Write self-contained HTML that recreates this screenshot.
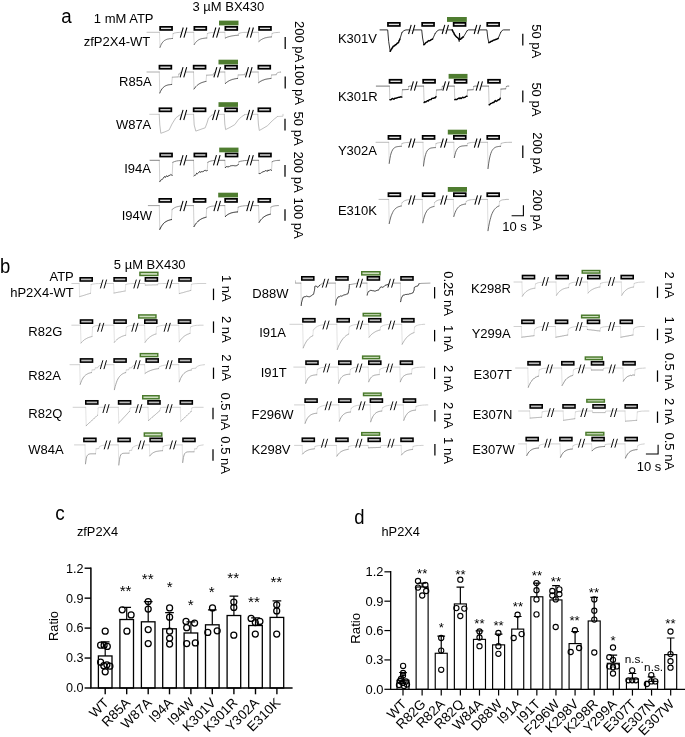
<!DOCTYPE html>
<html><head><meta charset="utf-8"><title>Figure</title>
<style>html,body{margin:0;padding:0;background:#fff}svg{display:block}text{font-family:"Liberation Sans",Arial,sans-serif;fill:#000}</style>
</head><body>
<svg width="685" height="737" viewBox="0 0 685 737">
<rect width="685" height="737" fill="#fff"/>
<text x="0" y="0" font-size="20.8" text-anchor="start" transform="translate(61.20 22.70) scale(0.9 1)" >a</text>
<text x="93.8" y="22.8" font-size="13.0" text-anchor="start" >1 mM ATP</text>
<text x="192.5" y="11.0" font-size="13.0" text-anchor="start" >3 µM BX430</text>
<path d="M159.5,32.3 L160.0,47.4M172.5,38.5 L173.1,33.6M193.7,32.3 L194.2,44.6M206.8,38.0 L207.4,33.6M224.8,32.3 L225.3,38.0M238.3,35.2 L238.9,33.4M258.4,32.3 L258.9,41.5M271.5,36.9 L272.1,33.5" fill="none" stroke="#d4d4d4" stroke-width="0.8" stroke-linejoin="round" stroke-linecap="round"/>
<path d="M147.0,32.3 L159.5,32.3M173.1,33.6 L174.3,33.1 L175.6,32.8 L176.8,32.6 L178.0,32.5 L179.3,32.4 L180.5,32.4 L180.5,32.3 L193.7,32.3M207.4,33.6 L208.6,33.1 L209.9,32.8 L211.1,32.6 L212.3,32.5 L213.6,32.4 L214.8,32.4 L214.8,32.3 L224.8,32.3M238.9,33.4 L240.1,33.0 L241.4,32.7 L242.6,32.5 L243.8,32.4 L245.1,32.4 L246.3,32.4 L246.3,32.3 L258.4,32.3M272.1,33.5 L273.3,33.0 L274.6,32.7 L275.8,32.6 L277.0,32.5 L278.3,32.4 L279.5,32.4 L279.5,32.3 L279.5,32.3" fill="none" stroke="#b0b0b0" stroke-width="0.8" stroke-linejoin="round" stroke-linecap="round"/>
<path d="M160.0,47.4 L160.7,45.6 L161.4,44.1 L162.1,43.0 L162.8,42.1 L163.5,41.3 L164.2,40.7 L164.9,40.2 L165.6,39.9 L166.2,39.6 L166.9,39.3 L167.6,39.1 L168.3,39.0 L169.0,38.8 L169.7,38.7 L170.4,38.7 L171.1,38.6 L171.8,38.5 L172.5,38.5M194.2,44.6 L194.9,43.4 L195.6,42.5 L196.3,41.7 L197.0,41.0 L197.7,40.5 L198.4,40.0 L199.1,39.6 L199.8,39.3 L200.5,39.0 L201.2,38.8 L201.9,38.6 L202.6,38.5 L203.3,38.4 L204.0,38.3 L204.7,38.2 L205.4,38.1 L206.1,38.0 L206.8,38.0M225.3,38.0 L226.0,37.7 L226.7,37.4 L227.4,37.1 L228.0,36.9 L228.7,36.7 L229.4,36.5 L230.1,36.3 L230.8,36.2 L231.5,36.0 L232.1,35.9 L232.8,35.8 L233.5,35.7 L234.2,35.6 L234.9,35.5 L235.6,35.4 L236.2,35.4 L236.9,35.3 L237.6,35.2 L238.3,35.2M258.9,41.5 L259.6,40.9 L260.3,40.3 L261.0,39.8 L261.7,39.4 L262.4,39.0 L263.1,38.7 L263.8,38.4 L264.5,38.1 L265.2,37.9 L265.9,37.7 L266.6,37.6 L267.3,37.4 L268.0,37.3 L268.7,37.2 L269.4,37.1 L270.1,37.0 L270.8,37.0 L271.5,36.9" fill="none" stroke="#555" stroke-width="0.8" stroke-linejoin="round" stroke-linecap="round"/>
<rect x="160.15" y="26.85" width="11.90" height="3.10" fill="#e2e2e2" stroke="#000" stroke-width="1.7"/>
<rect x="194.35" y="26.85" width="11.90" height="3.10" fill="#e2e2e2" stroke="#000" stroke-width="1.7"/>
<rect x="225.35" y="26.85" width="11.90" height="3.10" fill="#e2e2e2" stroke="#000" stroke-width="1.7"/>
<rect x="259.05" y="26.85" width="11.90" height="3.10" fill="#e2e2e2" stroke="#000" stroke-width="1.7"/>
<rect x="219.00" y="20.60" width="19.50" height="4.80" fill="#4f7d30"/>
<rect x="181.58" y="31.40" width="4.05" height="2.4" fill="#fff"/>
<line x1="183.25" y1="27.50" x2="180.30" y2="37.70" stroke="#000" stroke-width="1.05"/>
<line x1="186.90" y1="27.50" x2="183.95" y2="37.70" stroke="#000" stroke-width="1.05"/>
<rect x="214.18" y="31.40" width="4.05" height="2.4" fill="#fff"/>
<line x1="215.85" y1="27.50" x2="212.90" y2="37.70" stroke="#000" stroke-width="1.05"/>
<line x1="219.50" y1="27.50" x2="216.55" y2="37.70" stroke="#000" stroke-width="1.05"/>
<rect x="248.08" y="31.40" width="4.05" height="2.4" fill="#fff"/>
<line x1="249.75" y1="27.50" x2="246.80" y2="37.70" stroke="#000" stroke-width="1.05"/>
<line x1="253.40" y1="27.50" x2="250.45" y2="37.70" stroke="#000" stroke-width="1.05"/>
<text x="150.2" y="45.6" font-size="13.0" text-anchor="end" >zfP2X4-WT</text>
<line x1="285.2" y1="37.0" x2="285.2" y2="49.0" stroke="#000" stroke-width="1.25"/>
<text x="294.7" y="21.0" font-size="13.0" text-anchor="start" transform="rotate(90 294.7 21.0)" >200 pA</text>
<path d="M159.3,72.0 L159.8,93.0M171.7,84.4 L172.3,77.2M178.2,76.9 L178.8,74.6M193.5,72.0 L194.0,89.0M206.0,81.4 L206.6,75.2M213.2,74.9 L213.8,73.4M224.8,72.0 L225.3,83.5M237.6,78.4 L238.2,75.0M244.7,74.7 L245.3,73.2M258.2,72.0 L258.7,82.6M271.0,78.4 L271.6,75.0M276.2,74.7 L276.8,73.4" fill="none" stroke="#ccc" stroke-width="0.8" stroke-linejoin="round" stroke-linecap="round"/>
<path d="M147.0,72.0 L159.3,72.0M172.3,77.2 L178.2,76.9M178.8,74.6 L179.2,73.6 L179.7,73.0 L180.2,72.6 L180.6,72.4 L181.1,72.2 L181.5,72.1 L181.5,72.0 L193.5,72.0M206.6,75.2 L213.2,74.9M213.8,73.4 L214.2,72.8 L214.5,72.5 L214.9,72.3 L215.3,72.2 L215.6,72.1 L216.0,72.1 L216.0,72.0 L224.8,72.0M238.2,75.0 L244.7,74.7M245.3,73.2 L245.8,72.7 L246.2,72.4 L246.7,72.3 L247.1,72.2 L247.6,72.1 L248.0,72.1 L248.0,72.0 L258.2,72.0M271.6,75.0 L276.2,74.7M276.8,73.4 L277.5,72.8 L278.2,72.5 L278.9,72.3 L279.6,72.2 L280.3,72.1 L281.0,72.1 L281.0,72.0 L281.0,72.0" fill="none" stroke="#999" stroke-width="0.8" stroke-linejoin="round" stroke-linecap="round"/>
<path d="M159.8,93.0 L160.5,91.4 L161.2,90.1 L161.9,89.0 L162.6,88.2 L163.3,87.4 L164.0,86.8 L164.7,86.3 L165.4,85.9 L166.1,85.6 L166.8,85.3 L167.5,85.1 L168.2,84.9 L168.9,84.8 L169.6,84.7 L170.3,84.6 L171.0,84.5 L171.7,84.4M194.0,89.0 L194.7,88.1 L195.3,87.2 L196.0,86.5 L196.7,85.8 L197.3,85.3 L198.0,84.7 L198.7,84.2 L199.3,83.8 L200.0,83.4 L200.7,83.1 L201.3,82.8 L202.0,82.5 L202.7,82.3 L203.3,82.1 L204.0,81.9 L204.7,81.7 L205.3,81.5 L206.0,81.4M225.3,83.5 L226.0,82.9 L226.7,82.3 L227.4,81.8 L228.0,81.4 L228.7,81.0 L229.4,80.6 L230.1,80.3 L230.8,80.0 L231.4,79.8 L232.1,79.5 L232.8,79.3 L233.5,79.2 L234.2,79.0 L234.9,78.8 L235.6,78.7 L236.2,78.6 L236.9,78.5 L237.6,78.4M258.7,82.6 L259.4,82.1 L260.1,81.6 L260.8,81.2 L261.4,80.9 L262.1,80.5 L262.8,80.2 L263.5,80.0 L264.2,79.7 L264.9,79.5 L265.5,79.3 L266.2,79.2 L266.9,79.0 L267.6,78.9 L268.3,78.8 L268.9,78.7 L269.6,78.6 L270.3,78.5 L271.0,78.4" fill="none" stroke="#333" stroke-width="0.85" stroke-linejoin="round" stroke-linecap="round"/>
<rect x="159.45" y="65.65" width="11.90" height="3.10" fill="#e2e2e2" stroke="#000" stroke-width="1.7"/>
<rect x="193.65" y="65.65" width="11.90" height="3.10" fill="#e2e2e2" stroke="#000" stroke-width="1.7"/>
<rect x="225.15" y="65.65" width="11.90" height="3.10" fill="#e2e2e2" stroke="#000" stroke-width="1.7"/>
<rect x="258.35" y="65.65" width="11.90" height="3.10" fill="#e2e2e2" stroke="#000" stroke-width="1.7"/>
<rect x="218.50" y="59.70" width="19.50" height="4.70" fill="#4f7d30"/>
<rect x="181.38" y="71.10" width="4.05" height="2.4" fill="#fff"/>
<line x1="183.05" y1="67.20" x2="180.10" y2="77.40" stroke="#000" stroke-width="1.05"/>
<line x1="186.70" y1="67.20" x2="183.75" y2="77.40" stroke="#000" stroke-width="1.05"/>
<rect x="215.18" y="71.10" width="4.05" height="2.4" fill="#fff"/>
<line x1="216.85" y1="67.20" x2="213.90" y2="77.40" stroke="#000" stroke-width="1.05"/>
<line x1="220.50" y1="67.20" x2="217.55" y2="77.40" stroke="#000" stroke-width="1.05"/>
<rect x="246.78" y="71.10" width="4.05" height="2.4" fill="#fff"/>
<line x1="248.45" y1="67.20" x2="245.50" y2="77.40" stroke="#000" stroke-width="1.05"/>
<line x1="252.10" y1="67.20" x2="249.15" y2="77.40" stroke="#000" stroke-width="1.05"/>
<text x="151.6" y="86.4" font-size="13.0" text-anchor="end" >R85A</text>
<line x1="285.2" y1="76.4" x2="285.2" y2="88.6" stroke="#000" stroke-width="1.25"/>
<text x="294.7" y="63.8" font-size="13.0" text-anchor="start" transform="rotate(90 294.7 63.8)" >100 pA</text>
<path d="M149.7,114.3 L159.2,114.3M179.0,115.5 L181.0,114.5 L193.6,114.3M211.8,115.1 L213.5,114.5 L224.3,114.3M244.6,114.7 L246.0,114.4 L257.8,114.3M277.5,116.5 L283.0,116.2 L283.0,114.3" fill="none" stroke="#c0c0c0" stroke-width="0.8" stroke-linejoin="round" stroke-linecap="round"/>
<path d="M159.2,114.3 L159.8,125.0 L160.8,133.3 L165.0,131.8 L169.1,130.0 L172.0,124.0 L175.7,118.0 L179.0,115.5M193.6,114.3 L194.2,125.0 L195.8,131.1 L200.0,129.6 L205.2,127.8 L207.0,123.0 L208.5,118.0 L211.8,115.1M224.3,114.3 L224.8,124.0 L225.6,129.6 L230.0,127.4 L234.8,124.6 L238.0,120.2 L241.3,116.9 L244.6,114.7M257.8,114.3 L258.4,124.0 L259.3,130.5 L263.0,128.4 L267.6,125.7 L271.0,122.0 L274.2,119.1 L277.5,116.5" fill="none" stroke="#b4b4b4" stroke-width="0.85" stroke-linejoin="round" stroke-linecap="round"/>
<rect x="159.45" y="108.25" width="11.90" height="3.10" fill="#e2e2e2" stroke="#000" stroke-width="1.7"/>
<rect x="193.65" y="108.25" width="11.90" height="3.10" fill="#e2e2e2" stroke="#000" stroke-width="1.7"/>
<rect x="225.15" y="108.25" width="11.90" height="3.10" fill="#e2e2e2" stroke="#000" stroke-width="1.7"/>
<rect x="258.35" y="108.25" width="11.90" height="3.10" fill="#e2e2e2" stroke="#000" stroke-width="1.7"/>
<rect x="218.50" y="102.20" width="19.50" height="4.70" fill="#4f7d30"/>
<rect x="181.38" y="113.70" width="4.05" height="2.4" fill="#fff"/>
<line x1="183.05" y1="109.80" x2="180.10" y2="120.00" stroke="#000" stroke-width="1.05"/>
<line x1="186.70" y1="109.80" x2="183.75" y2="120.00" stroke="#000" stroke-width="1.05"/>
<rect x="213.78" y="113.70" width="4.05" height="2.4" fill="#fff"/>
<line x1="215.45" y1="109.80" x2="212.50" y2="120.00" stroke="#000" stroke-width="1.05"/>
<line x1="219.10" y1="109.80" x2="216.15" y2="120.00" stroke="#000" stroke-width="1.05"/>
<rect x="247.98" y="113.70" width="4.05" height="2.4" fill="#fff"/>
<line x1="249.65" y1="109.80" x2="246.70" y2="120.00" stroke="#000" stroke-width="1.05"/>
<line x1="253.30" y1="109.80" x2="250.35" y2="120.00" stroke="#000" stroke-width="1.05"/>
<text x="151.3" y="129.0" font-size="13.0" text-anchor="end" >W87A</text>
<line x1="285.0" y1="118.7" x2="285.0" y2="130.6" stroke="#000" stroke-width="1.25"/>
<text x="293.9" y="111.6" font-size="13.0" text-anchor="start" transform="rotate(90 293.9 111.6)" >50 pA</text>
<path d="M159.3,160.3 L159.8,181.7M172.2,175.3 L172.8,162.3M193.5,160.3 L194.0,175.9M207.2,170.6 L207.8,162.3M224.8,160.3 L225.3,167.7M238.3,164.4 L238.9,161.8M258.6,160.3 L259.1,173.5M271.5,170.4 L272.1,161.8" fill="none" stroke="#c4c4c4" stroke-width="0.8" stroke-linejoin="round" stroke-linecap="round"/>
<path d="M150.0,160.3 L159.3,160.3M172.8,162.3 L174.7,161.5 L176.5,161.0 L178.4,160.7 L180.3,160.6 L182.1,160.5 L184.0,160.4 L184.0,160.3 L193.5,160.3M207.8,162.3 L209.3,161.5 L210.9,161.0 L212.4,160.7 L213.9,160.6 L215.5,160.5 L217.0,160.4 L217.0,160.3 L224.8,160.3M238.9,161.8 L240.8,161.2 L242.6,160.9 L244.4,160.6 L246.3,160.5 L248.2,160.4 L250.0,160.4 L250.0,160.3 L258.6,160.3M272.1,161.8 L273.2,161.2 L274.4,160.9 L275.6,160.6 L276.7,160.5 L277.9,160.4 L279.0,160.4 L279.0,160.3 L279.7,160.3" fill="none" stroke="#666" stroke-width="0.8" stroke-linejoin="round" stroke-linecap="round"/>
<path d="M159.8,181.7 L160.5,180.4 L161.2,180.2 L161.9,179.2 L162.6,179.0 L163.2,178.5 L163.9,177.1 L164.6,176.5 L165.3,177.5 L166.0,176.2 L166.7,175.8 L167.4,176.8 L168.1,175.7 L168.8,176.1 L169.4,175.3 L170.1,175.4 L170.8,174.4 L171.5,175.0 L172.2,175.3M194.0,175.9 L194.7,175.3 L195.4,175.1 L196.1,174.5 L196.8,173.0 L197.5,173.7 L198.2,173.1 L198.9,172.2 L199.6,171.5 L200.3,172.5 L200.9,171.6 L201.6,171.7 L202.3,171.8 L203.0,171.3 L203.7,171.4 L204.4,170.4 L205.1,170.9 L205.8,170.2 L206.5,170.8 L207.2,170.6M225.3,167.7 L226.0,166.8 L226.7,166.6 L227.4,166.5 L228.0,167.3 L228.7,166.4 L229.4,166.5 L230.1,165.8 L230.8,166.0 L231.5,165.7 L232.1,165.5 L232.8,165.7 L233.5,165.6 L234.2,165.9 L234.9,165.5 L235.6,165.8 L236.2,165.6 L236.9,165.7 L237.6,165.2 L238.3,164.4M259.1,173.5 L259.8,173.6 L260.5,173.4 L261.2,173.0 L261.9,172.3 L262.5,172.2 L263.2,171.3 L263.9,171.9 L264.6,171.3 L265.3,170.8 L266.0,170.3 L266.7,171.2 L267.4,171.3 L268.1,169.9 L268.7,170.8 L269.4,170.1 L270.1,169.7 L270.8,169.8 L271.5,170.4" fill="none" stroke="#2a2a2a" stroke-width="0.9" stroke-linejoin="round" stroke-linecap="round"/>
<rect x="160.15" y="153.45" width="11.90" height="3.10" fill="#e2e2e2" stroke="#000" stroke-width="1.7"/>
<rect x="194.35" y="153.45" width="11.90" height="3.10" fill="#e2e2e2" stroke="#000" stroke-width="1.7"/>
<rect x="225.65" y="153.45" width="11.90" height="3.10" fill="#e2e2e2" stroke="#000" stroke-width="1.7"/>
<rect x="259.05" y="153.45" width="11.90" height="3.10" fill="#e2e2e2" stroke="#000" stroke-width="1.7"/>
<rect x="219.20" y="147.60" width="19.30" height="4.70" fill="#4f7d30"/>
<rect x="181.38" y="159.00" width="4.05" height="2.4" fill="#fff"/>
<line x1="183.05" y1="155.10" x2="180.10" y2="165.30" stroke="#000" stroke-width="1.05"/>
<line x1="186.70" y1="155.10" x2="183.75" y2="165.30" stroke="#000" stroke-width="1.05"/>
<rect x="214.78" y="159.00" width="4.05" height="2.4" fill="#fff"/>
<line x1="216.45" y1="155.10" x2="213.50" y2="165.30" stroke="#000" stroke-width="1.05"/>
<line x1="220.10" y1="155.10" x2="217.15" y2="165.30" stroke="#000" stroke-width="1.05"/>
<rect x="247.98" y="159.00" width="4.05" height="2.4" fill="#fff"/>
<line x1="249.65" y1="155.10" x2="246.70" y2="165.30" stroke="#000" stroke-width="1.05"/>
<line x1="253.30" y1="155.10" x2="250.35" y2="165.30" stroke="#000" stroke-width="1.05"/>
<text x="151.0" y="172.5" font-size="13.0" text-anchor="end" >I94A</text>
<line x1="285.0" y1="164.9" x2="285.0" y2="176.7" stroke="#000" stroke-width="1.25"/>
<text x="293.9" y="151.4" font-size="13.0" text-anchor="start" transform="rotate(90 293.9 151.4)" >200 pA</text>
<path d="M159.3,205.6 L159.8,229.4M171.5,219.6 L172.1,209.5M193.5,205.6 L194.0,226.6M206.1,217.2 L206.7,208.4M224.8,205.6 L225.3,216.5M237.6,211.9 L238.2,207.2M258.6,205.6 L259.1,222.4M270.3,214.2 L270.9,207.2" fill="none" stroke="#c4c4c4" stroke-width="0.8" stroke-linejoin="round" stroke-linecap="round"/>
<path d="M148.3,205.6 L159.3,205.6M172.1,209.5 L174.1,208.0 L176.1,207.0 L178.1,206.5 L180.0,206.1 L182.0,205.9 L184.0,205.8 L184.0,205.6 L193.5,205.6M206.7,208.4 L208.4,207.3 L210.1,206.6 L211.8,206.2 L213.6,206.0 L215.3,205.8 L217.0,205.7 L217.0,205.6 L224.8,205.6M238.2,207.2 L239.7,206.6 L241.1,206.2 L242.6,206.0 L244.1,205.8 L245.5,205.7 L247.0,205.7 L247.0,205.6 L258.6,205.6M270.9,207.2 L271.9,206.6 L272.9,206.2 L274.0,206.0 L275.0,205.8 L276.0,205.7 L277.0,205.7 L277.0,205.6 L278.5,205.6" fill="none" stroke="#888" stroke-width="0.8" stroke-linejoin="round" stroke-linecap="round"/>
<path d="M159.8,229.4 L160.5,227.9 L161.2,226.7 L161.9,225.6 L162.6,224.7 L163.2,223.8 L163.9,223.1 L164.6,222.5 L165.3,222.0 L166.0,221.6 L166.7,221.2 L167.4,220.8 L168.1,220.6 L168.7,220.3 L169.4,220.1 L170.1,219.9 L170.8,219.7 L171.5,219.6M194.0,226.6 L194.7,225.5 L195.3,224.4 L196.0,223.5 L196.7,222.7 L197.4,222.0 L198.0,221.3 L198.7,220.7 L199.4,220.2 L200.1,219.7 L200.7,219.3 L201.4,218.9 L202.1,218.6 L202.7,218.3 L203.4,218.0 L204.1,217.8 L204.8,217.6 L205.4,217.4 L206.1,217.2M225.3,216.5 L226.0,215.9 L226.7,215.3 L227.4,214.8 L228.0,214.4 L228.7,214.0 L229.4,213.7 L230.1,213.4 L230.8,213.1 L231.4,212.9 L232.1,212.7 L232.8,212.6 L233.5,212.4 L234.2,212.3 L234.9,212.2 L235.6,212.1 L236.2,212.0 L236.9,212.0 L237.6,211.9M259.1,222.4 L259.8,221.3 L260.5,220.3 L261.2,219.4 L261.9,218.7 L262.6,218.0 L263.3,217.4 L264.0,216.9 L264.7,216.4 L265.4,216.0 L266.1,215.6 L266.8,215.3 L267.5,215.0 L268.2,214.8 L268.9,214.6 L269.6,214.4 L270.3,214.2" fill="none" stroke="#222" stroke-width="1.0" stroke-linejoin="round" stroke-linecap="round"/>
<rect x="159.25" y="198.85" width="11.90" height="3.10" fill="#e2e2e2" stroke="#000" stroke-width="1.7"/>
<rect x="193.65" y="198.85" width="11.90" height="3.10" fill="#e2e2e2" stroke="#000" stroke-width="1.7"/>
<rect x="225.15" y="198.85" width="11.90" height="3.10" fill="#e2e2e2" stroke="#000" stroke-width="1.7"/>
<rect x="258.35" y="198.85" width="11.90" height="3.10" fill="#e2e2e2" stroke="#000" stroke-width="1.7"/>
<rect x="218.20" y="192.70" width="19.80" height="4.70" fill="#4f7d30"/>
<rect x="181.38" y="204.80" width="4.05" height="2.4" fill="#fff"/>
<line x1="183.05" y1="200.90" x2="180.10" y2="211.10" stroke="#000" stroke-width="1.05"/>
<line x1="186.70" y1="200.90" x2="183.75" y2="211.10" stroke="#000" stroke-width="1.05"/>
<rect x="215.18" y="204.80" width="4.05" height="2.4" fill="#fff"/>
<line x1="216.85" y1="200.90" x2="213.90" y2="211.10" stroke="#000" stroke-width="1.05"/>
<line x1="220.50" y1="200.90" x2="217.55" y2="211.10" stroke="#000" stroke-width="1.05"/>
<rect x="247.98" y="204.80" width="4.05" height="2.4" fill="#fff"/>
<line x1="249.65" y1="200.90" x2="246.70" y2="211.10" stroke="#000" stroke-width="1.05"/>
<line x1="253.30" y1="200.90" x2="250.35" y2="211.10" stroke="#000" stroke-width="1.05"/>
<text x="152.0" y="220.0" font-size="13.0" text-anchor="end" >I94W</text>
<line x1="285.0" y1="209.3" x2="285.0" y2="220.8" stroke="#000" stroke-width="1.25"/>
<text x="293.9" y="197.5" font-size="13.0" text-anchor="start" transform="rotate(90 293.9 197.5)" >100 pA</text>
<path d="M399.9,39.1 L402.0,32.4M432.6,39.1 L435.2,33.5M463.4,37.0 L467.0,30.9M498.1,38.6 L500.7,32.4" fill="none" stroke="#000" stroke-width="0.8" stroke-linejoin="round" stroke-linecap="round"/>
<path d="M380.0,29.9 L387.7,29.9 L388.7,41.6 L390.2,51.3M402.0,32.4 L404.0,30.6 L406.0,29.9 L421.7,29.9 L422.6,38.0 L423.9,44.7M435.2,33.5 L437.2,30.9 L439.0,29.9 L452.2,29.9M458.8,39.1 L459.2,41.6 L459.5,33.0 L459.9,39.3M467.0,30.9 L468.5,29.9 L486.9,29.9 L487.8,38.0 L488.9,42.7M500.7,32.4 L502.2,30.4 L503.5,29.9 L509.6,29.9" fill="none" stroke="#000" stroke-width="0.8" stroke-linejoin="round" stroke-linecap="round"/>
<path d="M390.2,51.3 L390.6,50.8 L391.1,49.5 L391.5,49.2 L392.0,48.1 L392.4,47.8 L392.9,46.8 L393.3,46.2 L394.0,46.0 L394.8,45.5 L395.5,44.7 L396.2,44.5 L396.9,43.6 L397.7,42.9 L398.4,42.7 L398.7,42.0 L399.0,40.9 L399.3,40.3 L399.6,39.8 L399.9,39.1M423.9,44.7 L424.7,44.1 L425.5,43.0 L426.4,42.2 L427.2,42.1 L428.0,41.1 L428.8,40.6 L429.5,40.8 L430.3,40.4 L431.1,39.7 L431.8,39.4 L432.6,39.1M452.2,29.9 L452.6,30.6 L452.9,31.4 L453.3,32.1 L453.7,32.7 L454.1,33.5 L454.4,34.4 L454.8,34.8 L455.2,35.5 L455.9,36.2 L456.6,37.1 L457.4,37.5 L458.1,38.2 L458.8,39.1M459.9,39.3 L460.6,39.2 L461.3,38.4 L462.0,38.0 L462.7,37.1 L463.4,37.0M488.9,42.7 L489.6,42.3 L490.4,42.0 L491.1,41.2 L491.8,41.3 L492.5,40.9 L493.3,40.2 L494.0,40.1 L494.8,39.9 L495.6,39.5 L496.5,39.3 L497.3,38.8 L498.1,38.6" fill="none" stroke="#000" stroke-width="1.5" stroke-linejoin="round" stroke-linecap="round"/>
<rect x="387.95" y="22.85" width="11.90" height="3.10" fill="#e2e2e2" stroke="#000" stroke-width="1.7"/>
<rect x="422.15" y="22.85" width="11.90" height="3.10" fill="#e2e2e2" stroke="#000" stroke-width="1.7"/>
<rect x="453.65" y="22.85" width="11.90" height="3.10" fill="#e2e2e2" stroke="#000" stroke-width="1.7"/>
<rect x="487.25" y="22.85" width="11.90" height="3.10" fill="#e2e2e2" stroke="#000" stroke-width="1.7"/>
<rect x="447.00" y="17.00" width="19.80" height="4.90" fill="#4f7d30"/>
<rect x="409.68" y="28.20" width="4.05" height="2.4" fill="#fff"/>
<line x1="411.21" y1="24.80" x2="408.54" y2="34.00" stroke="#000" stroke-width="1.05"/>
<line x1="414.86" y1="24.80" x2="412.19" y2="34.00" stroke="#000" stroke-width="1.05"/>
<rect x="443.28" y="28.20" width="4.05" height="2.4" fill="#fff"/>
<line x1="444.81" y1="24.80" x2="442.14" y2="34.00" stroke="#000" stroke-width="1.05"/>
<line x1="448.46" y1="24.80" x2="445.79" y2="34.00" stroke="#000" stroke-width="1.05"/>
<rect x="475.28" y="28.20" width="4.05" height="2.4" fill="#fff"/>
<line x1="476.81" y1="24.80" x2="474.14" y2="34.00" stroke="#000" stroke-width="1.05"/>
<line x1="480.46" y1="24.80" x2="477.79" y2="34.00" stroke="#000" stroke-width="1.05"/>
<text x="337.9" y="43.3" font-size="13.0" text-anchor="start" >K301V</text>
<line x1="522.8" y1="33.8" x2="522.8" y2="45.6" stroke="#000" stroke-width="1.25"/>
<text x="532.2" y="24.3" font-size="13.0" text-anchor="start" transform="rotate(90 532.2 24.3)" >50 pA</text>
<path d="M389.4,86.1 L389.9,99.7M401.8,97.1 L402.4,89.8M408.2,89.5 L408.8,86.4M423.6,86.1 L424.1,102.6M436.0,96.6 L436.6,90.0M441.7,89.7 L442.3,86.4M454.3,86.1 L454.8,99.7M467.0,96.3 L467.6,90.0M473.2,89.7 L473.8,86.4M488.6,86.1 L489.1,104.7M500.3,98.2 L500.9,89.1M505.7,88.8 L506.3,86.6" fill="none" stroke="#bbb" stroke-width="0.8" stroke-linejoin="round" stroke-linecap="round"/>
<path d="M376.3,86.1 L389.4,86.1M402.4,89.8 L408.2,89.5M408.8,86.4 L409.2,86.3 L409.5,86.2 L409.9,86.2 L410.3,86.1 L410.6,86.1 L411.0,86.1 L411.0,86.1 L423.6,86.1M436.6,90.0 L441.7,89.7M442.3,86.4 L442.6,86.3 L442.9,86.2 L443.1,86.2 L443.4,86.1 L443.7,86.1 L444.0,86.1 L444.0,86.1 L454.3,86.1M467.6,90.0 L473.2,89.7M473.8,86.4 L474.2,86.3 L474.5,86.2 L474.9,86.2 L475.3,86.1 L475.6,86.1 L476.0,86.1 L476.0,86.1 L488.6,86.1M500.9,89.1 L505.7,88.8M506.3,86.6 L506.6,86.4 L506.9,86.3 L507.1,86.2 L507.4,86.2 L507.7,86.1 L508.0,86.1 L508.0,86.1 L508.8,86.1" fill="none" stroke="#555" stroke-width="0.8" stroke-linejoin="round" stroke-linecap="round"/>
<path d="M389.9,99.7 L390.6,99.8 L391.3,99.6 L392.0,98.6 L392.7,98.5 L393.4,99.1 L394.1,99.2 L394.8,98.2 L395.5,98.3 L396.2,98.3 L396.9,97.8 L397.6,97.7 L398.3,97.4 L399.0,97.3 L399.7,97.4 L400.4,96.9 L401.1,96.8 L401.8,97.1M424.1,102.6 L424.8,101.7 L425.5,102.0 L426.2,101.9 L426.9,101.1 L427.6,100.6 L428.3,101.0 L429.0,100.0 L429.7,99.6 L430.4,99.6 L431.1,99.5 L431.8,98.5 L432.5,98.4 L433.2,98.1 L433.9,98.4 L434.6,97.6 L435.3,97.8 L436.0,96.6M454.8,99.7 L455.5,99.3 L456.2,99.5 L456.8,99.6 L457.5,98.9 L458.2,98.5 L458.9,98.2 L459.5,98.5 L460.2,97.9 L460.9,98.5 L461.6,98.3 L462.3,97.4 L462.9,97.3 L463.6,97.8 L464.3,97.4 L465.0,97.4 L465.6,96.7 L466.3,96.2 L467.0,96.3M489.1,104.7 L489.8,104.7 L490.5,103.7 L491.2,103.4 L491.9,103.1 L492.6,102.7 L493.3,102.3 L494.0,102.5 L494.7,101.2 L495.4,100.6 L496.1,101.4 L496.8,100.9 L497.5,100.6 L498.2,99.6 L498.9,99.8 L499.6,99.4 L500.3,98.2" fill="none" stroke="#000" stroke-width="1.4" stroke-linejoin="round" stroke-linecap="round"/>
<rect x="389.55" y="79.75" width="11.90" height="3.10" fill="#e2e2e2" stroke="#000" stroke-width="1.7"/>
<rect x="423.15" y="79.75" width="11.90" height="3.10" fill="#e2e2e2" stroke="#000" stroke-width="1.7"/>
<rect x="454.65" y="79.75" width="11.90" height="3.10" fill="#e2e2e2" stroke="#000" stroke-width="1.7"/>
<rect x="488.05" y="79.75" width="11.90" height="3.10" fill="#e2e2e2" stroke="#000" stroke-width="1.7"/>
<rect x="448.60" y="73.90" width="18.90" height="4.80" fill="#4f7d30"/>
<rect x="411.88" y="84.80" width="4.05" height="2.4" fill="#fff"/>
<line x1="413.41" y1="81.40" x2="410.74" y2="90.60" stroke="#000" stroke-width="1.05"/>
<line x1="417.06" y1="81.40" x2="414.39" y2="90.60" stroke="#000" stroke-width="1.05"/>
<rect x="443.98" y="84.80" width="4.05" height="2.4" fill="#fff"/>
<line x1="445.51" y1="81.40" x2="442.84" y2="90.60" stroke="#000" stroke-width="1.05"/>
<line x1="449.16" y1="81.40" x2="446.49" y2="90.60" stroke="#000" stroke-width="1.05"/>
<rect x="477.28" y="84.80" width="4.05" height="2.4" fill="#fff"/>
<line x1="478.81" y1="81.40" x2="476.14" y2="90.60" stroke="#000" stroke-width="1.05"/>
<line x1="482.46" y1="81.40" x2="479.79" y2="90.60" stroke="#000" stroke-width="1.05"/>
<text x="337.9" y="100.5" font-size="13.0" text-anchor="start" >K301R</text>
<line x1="522.8" y1="90.4" x2="522.8" y2="102.2" stroke="#000" stroke-width="1.25"/>
<text x="532.2" y="82.4" font-size="13.0" text-anchor="start" transform="rotate(90 532.2 82.4)" >50 pA</text>
<path d="M388.7,142.3 L389.2,163.4M401.3,146.3 L401.9,143.6M423.0,142.3 L423.5,166.0M435.4,147.6 L436.0,143.6M453.8,142.3 L454.3,157.6M467.0,145.7 L467.6,143.4M487.5,142.3 L488.0,168.6M500.6,146.3 L501.2,143.4" fill="none" stroke="#d4d4d4" stroke-width="0.8" stroke-linejoin="round" stroke-linecap="round"/>
<path d="M376.0,142.3 L388.7,142.3M401.9,143.6 L403.1,143.1 L404.4,142.8 L405.6,142.6 L406.8,142.5 L408.1,142.4 L409.3,142.4 L409.3,142.3 L423.0,142.3M436.0,143.6 L437.2,143.1 L438.5,142.8 L439.7,142.6 L440.9,142.5 L442.2,142.4 L443.4,142.4 L443.4,142.3 L453.8,142.3M467.6,143.4 L468.8,143.0 L470.1,142.7 L471.3,142.5 L472.5,142.4 L473.8,142.4 L475.0,142.4 L475.0,142.3 L487.5,142.3M501.2,143.4 L502.4,143.0 L503.7,142.7 L504.9,142.5 L506.1,142.4 L507.4,142.4 L508.6,142.4 L508.6,142.3 L511.6,142.3" fill="none" stroke="#aaa" stroke-width="0.8" stroke-linejoin="round" stroke-linecap="round"/>
<path d="M389.2,163.4 L389.9,158.8 L390.5,155.5 L391.2,153.0 L391.9,151.2 L392.6,149.9 L393.2,148.9 L393.9,148.2 L394.6,147.7 L395.2,147.3 L395.9,147.0 L396.6,146.8 L397.3,146.7 L397.9,146.5 L398.6,146.5 L399.3,146.4 L400.0,146.4 L400.6,146.3 L401.3,146.3M423.5,166.0 L424.2,160.9 L424.9,157.1 L425.6,154.5 L426.3,152.5 L427.0,151.1 L427.7,150.1 L428.4,149.4 L429.1,148.9 L429.8,148.5 L430.5,148.2 L431.2,148.0 L431.9,147.9 L432.6,147.8 L433.3,147.7 L434.0,147.7 L434.7,147.6 L435.4,147.6M454.3,157.6 L455.0,154.6 L455.6,152.3 L456.3,150.6 L457.0,149.4 L457.6,148.4 L458.3,147.7 L459.0,147.2 L459.6,146.8 L460.3,146.5 L461.0,146.3 L461.7,146.1 L462.3,146.0 L463.0,145.9 L463.7,145.9 L464.3,145.8 L465.0,145.8 L465.7,145.7 L466.3,145.7 L467.0,145.7M488.0,168.6 L488.7,163.2 L489.4,159.0 L490.1,155.9 L490.8,153.5 L491.5,151.7 L492.2,150.4 L492.9,149.4 L493.6,148.6 L494.3,148.0 L495.0,147.5 L495.7,147.2 L496.4,146.9 L497.1,146.8 L497.8,146.6 L498.5,146.5 L499.2,146.4 L499.9,146.3 L500.6,146.3" fill="none" stroke="#444" stroke-width="0.8" stroke-linejoin="round" stroke-linecap="round"/>
<rect x="388.45" y="135.85" width="11.90" height="3.10" fill="#e2e2e2" stroke="#000" stroke-width="1.7"/>
<rect x="422.65" y="135.85" width="11.90" height="3.10" fill="#e2e2e2" stroke="#000" stroke-width="1.7"/>
<rect x="453.85" y="135.85" width="11.90" height="3.10" fill="#e2e2e2" stroke="#000" stroke-width="1.7"/>
<rect x="487.25" y="135.85" width="11.90" height="3.10" fill="#e2e2e2" stroke="#000" stroke-width="1.7"/>
<rect x="447.80" y="129.70" width="19.20" height="4.80" fill="#4f7d30"/>
<rect x="409.78" y="141.90" width="4.05" height="2.4" fill="#fff"/>
<line x1="411.31" y1="138.50" x2="408.64" y2="147.70" stroke="#000" stroke-width="1.05"/>
<line x1="414.96" y1="138.50" x2="412.29" y2="147.70" stroke="#000" stroke-width="1.05"/>
<rect x="441.78" y="141.90" width="4.05" height="2.4" fill="#fff"/>
<line x1="443.31" y1="138.50" x2="440.64" y2="147.70" stroke="#000" stroke-width="1.05"/>
<line x1="446.96" y1="138.50" x2="444.29" y2="147.70" stroke="#000" stroke-width="1.05"/>
<rect x="475.48" y="141.90" width="4.05" height="2.4" fill="#fff"/>
<line x1="477.01" y1="138.50" x2="474.34" y2="147.70" stroke="#000" stroke-width="1.05"/>
<line x1="480.66" y1="138.50" x2="477.99" y2="147.70" stroke="#000" stroke-width="1.05"/>
<text x="337.9" y="155.2" font-size="13.0" text-anchor="start" >Y302A</text>
<line x1="522.8" y1="145.6" x2="522.8" y2="158.0" stroke="#000" stroke-width="1.25"/>
<text x="532.6" y="132.3" font-size="13.0" text-anchor="start" transform="rotate(90 532.6 132.3)" >200 pA</text>
<path d="M388.7,199.4 L389.2,223.6M401.3,206.0 L401.9,203.0M422.3,199.4 L422.8,222.8M434.0,206.5 L434.6,202.6M453.3,199.4 L453.8,216.5M465.6,204.0 L466.2,201.5M487.5,199.4 L488.0,230.7M499.0,206.0 L499.6,201.3" fill="none" stroke="#d4d4d4" stroke-width="0.8" stroke-linejoin="round" stroke-linecap="round"/>
<path d="M379.0,199.4 L388.7,199.4M401.9,203.0 L403.2,201.6 L404.6,200.7 L406.0,200.2 L407.3,199.9 L408.6,199.7 L410.0,199.6 L410.0,199.4 L422.3,199.4M434.6,202.6 L435.8,201.3 L437.1,200.6 L438.3,200.1 L439.5,199.8 L440.8,199.7 L442.0,199.6 L442.0,199.4 L453.3,199.4M466.2,201.5 L467.5,200.7 L468.8,200.2 L470.1,199.9 L471.4,199.7 L472.7,199.6 L474.0,199.5 L474.0,199.4 L487.5,199.4M499.6,201.3 L500.7,200.6 L501.7,200.1 L502.8,199.8 L503.9,199.7 L504.9,199.6 L506.0,199.5 L506.0,199.4 L508.5,199.4" fill="none" stroke="#aaa" stroke-width="0.8" stroke-linejoin="round" stroke-linecap="round"/>
<path d="M389.2,223.6 L389.9,220.5 L390.5,218.0 L391.2,215.8 L391.9,214.1 L392.6,212.6 L393.2,211.4 L393.9,210.3 L394.6,209.5 L395.2,208.8 L395.9,208.2 L396.6,207.7 L397.3,207.3 L397.9,207.0 L398.6,206.7 L399.3,206.5 L400.0,206.3 L400.6,206.1 L401.3,206.0M422.8,222.8 L423.5,219.6 L424.2,217.0 L424.9,214.9 L425.6,213.2 L426.3,211.9 L427.0,210.7 L427.7,209.8 L428.4,209.1 L429.1,208.5 L429.8,208.0 L430.5,207.6 L431.2,207.3 L431.9,207.0 L432.6,206.8 L433.3,206.6 L434.0,206.5M453.8,216.5 L454.5,214.2 L455.2,212.3 L455.9,210.7 L456.6,209.5 L457.3,208.4 L458.0,207.5 L458.7,206.8 L459.4,206.2 L460.0,205.8 L460.7,205.4 L461.4,205.0 L462.1,204.8 L462.8,204.6 L463.5,204.4 L464.2,204.2 L464.9,204.1 L465.6,204.0M488.0,230.7 L488.7,226.4 L489.4,222.8 L490.1,219.8 L490.8,217.3 L491.4,215.2 L492.1,213.5 L492.8,212.0 L493.5,210.8 L494.2,209.7 L494.9,208.9 L495.6,208.2 L496.2,207.6 L496.9,207.1 L497.6,206.6 L498.3,206.3 L499.0,206.0" fill="none" stroke="#444" stroke-width="0.8" stroke-linejoin="round" stroke-linecap="round"/>
<rect x="388.45" y="193.15" width="11.90" height="3.10" fill="#e2e2e2" stroke="#000" stroke-width="1.7"/>
<rect x="422.65" y="193.15" width="11.90" height="3.10" fill="#e2e2e2" stroke="#000" stroke-width="1.7"/>
<rect x="453.85" y="193.15" width="11.90" height="3.10" fill="#e2e2e2" stroke="#000" stroke-width="1.7"/>
<rect x="487.25" y="193.15" width="11.90" height="3.10" fill="#e2e2e2" stroke="#000" stroke-width="1.7"/>
<rect x="447.80" y="187.00" width="19.20" height="4.80" fill="#4f7d30"/>
<rect x="409.78" y="198.80" width="4.05" height="2.4" fill="#fff"/>
<line x1="411.31" y1="195.40" x2="408.64" y2="204.60" stroke="#000" stroke-width="1.05"/>
<line x1="414.96" y1="195.40" x2="412.29" y2="204.60" stroke="#000" stroke-width="1.05"/>
<rect x="441.78" y="198.80" width="4.05" height="2.4" fill="#fff"/>
<line x1="443.31" y1="195.40" x2="440.64" y2="204.60" stroke="#000" stroke-width="1.05"/>
<line x1="446.96" y1="195.40" x2="444.29" y2="204.60" stroke="#000" stroke-width="1.05"/>
<rect x="475.98" y="198.80" width="4.05" height="2.4" fill="#fff"/>
<line x1="477.51" y1="195.40" x2="474.84" y2="204.60" stroke="#000" stroke-width="1.05"/>
<line x1="481.16" y1="195.40" x2="478.49" y2="204.60" stroke="#000" stroke-width="1.05"/>
<text x="337.9" y="215.0" font-size="13.0" text-anchor="start" >E310K</text>
<text x="532.6" y="189.3" font-size="13.0" text-anchor="start" transform="rotate(90 532.6 189.3)" >200 pA</text>
<path d="M511.6,215.7 H523.4 V205.2" fill="none" stroke="#000" stroke-width="1.1"/>
<text x="502.2" y="230.8" font-size="13.0" text-anchor="start" >10 s</text>
<text x="0" y="0" font-size="20.5" text-anchor="start" transform="translate(-0.10 273.10) scale(0.9 1)" >b</text>
<text x="73.8" y="280.8" font-size="13.0" text-anchor="end" >ATP</text>
<text x="113.8" y="269.4" font-size="13.0" text-anchor="start" >5 µM BX430</text>
<path d="M79.2,283.5 L79.7,296.6M90.5,293.3 L91.1,284.5M113.5,283.5 L114.0,293.0M125.2,291.0 L125.8,284.5M144.8,283.5 L145.3,285.1M157.5,284.8 L158.1,283.8M178.8,283.5 L179.3,293.6M190.8,290.4 L191.4,284.4" fill="none" stroke="#dcdcdc" stroke-width="0.8" stroke-linejoin="round" stroke-linecap="round"/>
<path d="M71.8,283.5 L79.2,283.5M91.1,284.5 L92.6,284.1 L94.1,283.9 L95.5,283.7 L97.0,283.6 L98.5,283.6 L100.0,283.5 L100.0,283.5 L113.5,283.5M125.8,284.5 L127.0,284.1 L128.2,283.9 L129.4,283.7 L130.6,283.6 L131.8,283.6 L133.0,283.5 L133.0,283.5 L144.8,283.5M158.1,283.8 L158.9,283.7 L159.7,283.6 L160.6,283.6 L161.4,283.5 L162.2,283.5 L163.0,283.5 L163.0,283.5 L178.8,283.5M191.4,284.4 L192.5,284.0 L193.6,283.8 L194.7,283.7 L195.8,283.6 L196.9,283.6 L198.0,283.5 L198.0,283.5 L205.8,283.5" fill="none" stroke="#c4c4c4" stroke-width="0.8" stroke-linejoin="round" stroke-linecap="round"/>
<path d="M79.7,296.6 L80.4,296.4 L81.0,296.2 L81.7,296.0 L82.4,295.8 L83.1,295.6 L83.8,295.4 L84.4,295.2 L85.1,295.0 L85.8,294.7 L86.5,294.5 L87.1,294.3 L87.8,294.1 L88.5,293.9 L89.2,293.7 L89.8,293.5 L90.5,293.3M114.0,293.0 L114.7,292.9 L115.4,292.8 L116.1,292.6 L116.8,292.5 L117.5,292.4 L118.2,292.2 L118.9,292.1 L119.6,292.0 L120.3,291.9 L121.0,291.8 L121.7,291.6 L122.4,291.5 L123.1,291.4 L123.8,291.2 L124.5,291.1 L125.2,291.0M145.3,285.1 L146.0,285.1 L146.7,285.1 L147.3,285.1 L148.0,285.0 L148.7,285.0 L149.4,285.0 L150.0,285.0 L150.7,285.0 L151.4,285.0 L152.1,284.9 L152.8,284.9 L153.4,284.9 L154.1,284.9 L154.8,284.9 L155.5,284.9 L156.1,284.8 L156.8,284.8 L157.5,284.8M179.3,293.6 L180.0,293.4 L180.7,293.2 L181.3,293.0 L182.0,292.8 L182.7,292.7 L183.4,292.5 L184.0,292.3 L184.7,292.1 L185.4,291.9 L186.1,291.7 L186.7,291.5 L187.4,291.3 L188.1,291.2 L188.8,291.0 L189.4,290.8 L190.1,290.6 L190.8,290.4" fill="none" stroke="#a4a4a4" stroke-width="0.8" stroke-linejoin="round" stroke-linecap="round"/>
<rect x="80.18" y="277.77" width="12.05" height="3.25" fill="#bcbcbc" stroke="#000" stroke-width="1.55"/>
<rect x="114.08" y="277.77" width="12.05" height="3.25" fill="#bcbcbc" stroke="#000" stroke-width="1.55"/>
<rect x="145.38" y="277.77" width="12.05" height="3.25" fill="#bcbcbc" stroke="#000" stroke-width="1.55"/>
<rect x="178.97" y="277.77" width="12.05" height="3.25" fill="#bcbcbc" stroke="#000" stroke-width="1.55"/>
<rect x="139.92" y="272.33" width="17.95" height="3.15" fill="#cfe0c0" stroke="#4a7a2c" stroke-width="1.45"/>
<rect x="101.47" y="282.80" width="4.05" height="2.4" fill="#fff"/>
<line x1="102.95" y1="279.60" x2="100.40" y2="288.40" stroke="#000" stroke-width="0.95"/>
<line x1="106.60" y1="279.60" x2="104.05" y2="288.40" stroke="#000" stroke-width="0.95"/>
<rect x="134.88" y="282.80" width="4.05" height="2.4" fill="#fff"/>
<line x1="136.35" y1="279.60" x2="133.80" y2="288.40" stroke="#000" stroke-width="0.95"/>
<line x1="140.00" y1="279.60" x2="137.45" y2="288.40" stroke="#000" stroke-width="0.95"/>
<rect x="167.18" y="282.80" width="4.05" height="2.4" fill="#fff"/>
<line x1="168.65" y1="279.60" x2="166.10" y2="288.40" stroke="#000" stroke-width="0.95"/>
<line x1="172.30" y1="279.60" x2="169.75" y2="288.40" stroke="#000" stroke-width="0.95"/>
<text x="73.8" y="297.3" font-size="13.0" text-anchor="end" >hP2X4-WT</text>
<line x1="213.5" y1="288.6" x2="213.5" y2="300.1" stroke="#000" stroke-width="1.25"/>
<text x="221.8" y="274.9" font-size="13.0" text-anchor="start" transform="rotate(90 221.8 274.9)" >1 nA</text>
<path d="M80.5,325.2 L81.0,343.0M92.0,336.5 L92.6,327.3M113.9,325.2 L114.4,342.3M125.7,335.2 L126.3,327.3M144.6,325.2 L145.1,342.3M156.0,334.0 L156.6,327.0M178.8,325.2 L179.3,341.8M190.0,333.4 L190.6,327.0" fill="none" stroke="#dcdcdc" stroke-width="0.8" stroke-linejoin="round" stroke-linecap="round"/>
<path d="M71.8,325.2 L80.5,325.2M92.6,327.3 L93.7,326.5 L94.7,326.0 L95.8,325.7 L96.9,325.5 L97.9,325.4 L99.0,325.3 L99.0,325.2 L113.9,325.2M126.3,327.3 L127.4,326.5 L128.5,326.0 L129.7,325.7 L130.8,325.5 L131.9,325.4 L133.0,325.3 L133.0,325.2 L144.6,325.2M156.6,327.0 L158.0,326.3 L159.4,325.9 L160.8,325.6 L162.2,325.4 L163.6,325.3 L165.0,325.3 L165.0,325.2 L178.8,325.2M190.6,327.0 L192.0,326.3 L193.4,325.9 L194.8,325.6 L196.2,325.4 L197.6,325.3 L199.0,325.3 L199.0,325.2 L203.2,325.2" fill="none" stroke="#c4c4c4" stroke-width="0.8" stroke-linejoin="round" stroke-linecap="round"/>
<path d="M81.0,343.0 L81.7,342.2 L82.4,341.5 L83.1,340.8 L83.8,340.3 L84.4,339.7 L85.1,339.3 L85.8,338.9 L86.5,338.5 L87.2,338.1 L87.9,337.8 L88.6,337.5 L89.2,337.3 L89.9,337.1 L90.6,336.9 L91.3,336.7 L92.0,336.5M114.4,342.3 L115.1,341.4 L115.8,340.7 L116.5,340.0 L117.2,339.3 L117.9,338.7 L118.6,338.2 L119.3,337.8 L120.1,337.4 L120.8,337.0 L121.5,336.6 L122.2,336.3 L122.9,336.1 L123.6,335.8 L124.3,335.6 L125.0,335.4 L125.7,335.2M145.1,342.3 L145.8,341.3 L146.5,340.4 L147.1,339.6 L147.8,338.8 L148.5,338.1 L149.2,337.5 L149.9,337.0 L150.6,336.5 L151.2,336.1 L151.9,335.7 L152.6,335.3 L153.3,335.0 L154.0,334.7 L154.6,334.4 L155.3,334.2 L156.0,334.0M179.3,341.8 L180.0,340.8 L180.6,339.9 L181.3,339.0 L182.0,338.3 L182.6,337.6 L183.3,337.0 L184.0,336.4 L184.7,335.9 L185.3,335.5 L186.0,335.1 L186.7,334.7 L187.3,334.4 L188.0,334.1 L188.7,333.9 L189.3,333.6 L190.0,333.4" fill="none" stroke="#a0a0a0" stroke-width="0.8" stroke-linejoin="round" stroke-linecap="round"/>
<rect x="80.48" y="319.97" width="12.05" height="3.25" fill="#bcbcbc" stroke="#000" stroke-width="1.55"/>
<rect x="114.08" y="319.97" width="12.05" height="3.25" fill="#bcbcbc" stroke="#000" stroke-width="1.55"/>
<rect x="144.78" y="319.97" width="12.05" height="3.25" fill="#bcbcbc" stroke="#000" stroke-width="1.55"/>
<rect x="178.47" y="319.97" width="12.05" height="3.25" fill="#bcbcbc" stroke="#000" stroke-width="1.55"/>
<rect x="138.72" y="314.93" width="17.25" height="3.05" fill="#cfe0c0" stroke="#4a7a2c" stroke-width="1.45"/>
<rect x="98.67" y="326.10" width="4.05" height="2.4" fill="#fff"/>
<line x1="100.15" y1="322.90" x2="97.60" y2="331.70" stroke="#000" stroke-width="0.95"/>
<line x1="103.80" y1="322.90" x2="101.25" y2="331.70" stroke="#000" stroke-width="0.95"/>
<rect x="132.88" y="326.10" width="4.05" height="2.4" fill="#fff"/>
<line x1="134.35" y1="322.90" x2="131.80" y2="331.70" stroke="#000" stroke-width="0.95"/>
<line x1="138.00" y1="322.90" x2="135.45" y2="331.70" stroke="#000" stroke-width="0.95"/>
<rect x="165.18" y="326.10" width="4.05" height="2.4" fill="#fff"/>
<line x1="166.65" y1="322.90" x2="164.10" y2="331.70" stroke="#000" stroke-width="0.95"/>
<line x1="170.30" y1="322.90" x2="167.75" y2="331.70" stroke="#000" stroke-width="0.95"/>
<text x="28.3" y="336.2" font-size="13.0" text-anchor="start" >R82G</text>
<line x1="213.5" y1="321.4" x2="213.5" y2="332.9" stroke="#000" stroke-width="1.25"/>
<text x="221.8" y="316.0" font-size="13.0" text-anchor="start" transform="rotate(90 221.8 316.0)" >2 nA</text>
<path d="M79.7,364.7 L80.2,384.4M91.5,372.6 L92.1,370.0M94.7,369.7 L95.3,368.0M97.7,367.7 L98.3,366.5M113.9,364.7 L114.4,389.7M125.7,372.6 L126.3,370.0M128.7,369.7 L129.3,368.0M131.7,367.7 L132.3,366.5M144.6,364.7 L145.1,373.4M158.5,368.6 L159.1,367.0M178.8,364.7 L179.3,381.8M191.4,370.0 L192.0,368.5M195.7,368.2 L196.3,367.3" fill="none" stroke="#dcdcdc" stroke-width="0.8" stroke-linejoin="round" stroke-linecap="round"/>
<path d="M70.0,364.7 L79.7,364.7M92.1,370.0 L94.7,369.7M95.3,368.0 L97.7,367.7M98.3,366.5 L99.2,365.8 L100.2,365.4 L101.2,365.1 L102.1,364.9 L103.0,364.8 L104.0,364.8 L104.0,364.7 L113.9,364.7M126.3,370.0 L128.7,369.7M129.3,368.0 L131.7,367.7M132.3,366.5 L133.2,365.8 L134.2,365.4 L135.2,365.1 L136.1,364.9 L137.1,364.8 L138.0,364.8 L138.0,364.7 L144.6,364.7M159.1,367.0 L160.9,366.1 L162.7,365.5 L164.6,365.2 L166.4,365.0 L168.2,364.9 L170.0,364.8 L170.0,364.7 L178.8,364.7M192.0,368.5 L195.7,368.2M196.3,367.3 L197.6,366.3 L198.9,365.7 L200.2,365.3 L201.4,365.1 L202.7,364.9 L204.0,364.8 L204.0,364.7 L204.5,364.7" fill="none" stroke="#c4c4c4" stroke-width="0.8" stroke-linejoin="round" stroke-linecap="round"/>
<path d="M80.2,384.4 L80.9,382.4 L81.6,380.6 L82.3,379.2 L83.0,378.0 L83.7,377.0 L84.4,376.2 L85.1,375.5 L85.8,374.9 L86.6,374.4 L87.3,374.0 L88.0,373.6 L88.7,373.3 L89.4,373.1 L90.1,372.9 L90.8,372.7 L91.5,372.6M114.4,389.7 L115.1,386.7 L115.8,384.3 L116.5,382.2 L117.2,380.4 L117.9,379.0 L118.6,377.8 L119.3,376.8 L120.1,375.9 L120.8,375.2 L121.5,374.6 L122.2,374.1 L122.9,373.7 L123.6,373.3 L124.3,373.0 L125.0,372.8 L125.7,372.6M145.1,373.4 L145.8,372.9 L146.4,372.5 L147.1,372.1 L147.8,371.7 L148.4,371.4 L149.1,371.1 L149.8,370.8 L150.5,370.5 L151.1,370.3 L151.8,370.1 L152.5,369.8 L153.1,369.7 L153.8,369.5 L154.5,369.3 L155.2,369.2 L155.8,369.0 L156.5,368.9 L157.2,368.8 L157.8,368.7 L158.5,368.6M179.3,381.8 L180.0,380.0 L180.6,378.4 L181.3,377.1 L182.0,375.9 L182.7,374.9 L183.3,374.1 L184.0,373.4 L184.7,372.8 L185.4,372.3 L186.0,371.8 L186.7,371.5 L187.4,371.1 L188.0,370.9 L188.7,370.6 L189.4,370.4 L190.1,370.3 L190.7,370.1 L191.4,370.0" fill="none" stroke="#909090" stroke-width="0.8" stroke-linejoin="round" stroke-linecap="round"/>
<rect x="80.48" y="358.88" width="12.05" height="3.25" fill="#bcbcbc" stroke="#000" stroke-width="1.55"/>
<rect x="114.08" y="358.88" width="12.05" height="3.25" fill="#bcbcbc" stroke="#000" stroke-width="1.55"/>
<rect x="146.18" y="358.88" width="12.05" height="3.25" fill="#bcbcbc" stroke="#000" stroke-width="1.55"/>
<rect x="178.97" y="358.88" width="12.05" height="3.25" fill="#bcbcbc" stroke="#000" stroke-width="1.55"/>
<rect x="140.32" y="353.62" width="17.45" height="2.95" fill="#cfe0c0" stroke="#4a7a2c" stroke-width="1.45"/>
<rect x="101.38" y="363.50" width="4.05" height="2.4" fill="#fff"/>
<line x1="102.85" y1="360.30" x2="100.30" y2="369.10" stroke="#000" stroke-width="0.95"/>
<line x1="106.50" y1="360.30" x2="103.95" y2="369.10" stroke="#000" stroke-width="0.95"/>
<rect x="134.98" y="363.50" width="4.05" height="2.4" fill="#fff"/>
<line x1="136.45" y1="360.30" x2="133.90" y2="369.10" stroke="#000" stroke-width="0.95"/>
<line x1="140.10" y1="360.30" x2="137.55" y2="369.10" stroke="#000" stroke-width="0.95"/>
<rect x="166.98" y="363.50" width="4.05" height="2.4" fill="#fff"/>
<line x1="168.45" y1="360.30" x2="165.90" y2="369.10" stroke="#000" stroke-width="0.95"/>
<line x1="172.10" y1="360.30" x2="169.55" y2="369.10" stroke="#000" stroke-width="0.95"/>
<text x="28.3" y="379.5" font-size="13.0" text-anchor="start" >R82A</text>
<line x1="213.5" y1="367.6" x2="213.5" y2="378.9" stroke="#000" stroke-width="1.25"/>
<text x="221.8" y="354.2" font-size="13.0" text-anchor="start" transform="rotate(90 221.8 354.2)" >2 nA</text>
<path d="M85.7,407.3 L86.2,425.7M97.6,415.2 L98.2,408.0M118.3,407.3 L118.8,423.0M129.6,411.3 L130.2,408.0M148.0,407.3 L148.5,420.5M159.8,410.7 L160.4,408.0M180.3,407.3 L180.8,421.3M191.3,411.3 L191.9,408.0" fill="none" stroke="#dcdcdc" stroke-width="0.8" stroke-linejoin="round" stroke-linecap="round"/>
<path d="M73.1,407.3 L85.7,407.3M98.2,408.0 L98.5,407.7 L98.8,407.6 L99.1,407.5 L99.4,407.4 L99.7,407.4 L100.0,407.3 L100.0,407.3 L118.3,407.3M130.2,408.0 L130.7,407.7 L131.1,407.6 L131.6,407.5 L132.1,407.4 L132.5,407.4 L133.0,407.3 L133.0,407.3 L148.0,407.3M160.4,408.0 L160.8,407.7 L161.3,407.6 L161.7,407.5 L162.1,407.4 L162.6,407.4 L163.0,407.3 L163.0,407.3 L180.3,407.3M191.9,408.0 L192.4,407.7 L192.9,407.6 L193.4,407.5 L194.0,407.4 L194.5,407.4 L195.0,407.3 L195.0,407.3 L203.2,407.3" fill="none" stroke="#c4c4c4" stroke-width="0.8" stroke-linejoin="round" stroke-linecap="round"/>
<path d="M86.2,425.7 L86.9,425.1 L87.5,424.5 L88.2,423.8 L88.9,423.2 L89.6,422.6 L90.2,422.0 L90.9,421.4 L91.6,420.8 L92.2,420.1 L92.9,419.5 L93.6,418.9 L94.2,418.3 L94.9,417.7 L95.6,417.1 L96.3,416.4 L96.9,415.8 L97.6,415.2M118.8,423.0 L119.5,422.3 L120.1,421.5 L120.8,420.8 L121.5,420.1 L122.2,419.3 L122.8,418.6 L123.5,417.9 L124.2,417.1 L124.9,416.4 L125.5,415.7 L126.2,415.0 L126.9,414.2 L127.6,413.5 L128.2,412.8 L128.9,412.0 L129.6,411.3M148.5,420.5 L149.2,419.9 L149.9,419.3 L150.6,418.7 L151.3,418.1 L152.0,417.4 L152.7,416.8 L153.4,416.2 L154.2,415.6 L154.9,415.0 L155.6,414.4 L156.3,413.8 L157.0,413.1 L157.7,412.5 L158.4,411.9 L159.1,411.3 L159.8,410.7M180.8,421.3 L181.5,420.6 L182.2,420.0 L182.9,419.3 L183.6,418.6 L184.3,418.0 L185.0,417.3 L185.7,416.6 L186.4,416.0 L187.1,415.3 L187.8,414.6 L188.5,414.0 L189.2,413.3 L189.9,412.6 L190.6,412.0 L191.3,411.3" fill="none" stroke="#787878" stroke-width="0.55" stroke-linejoin="round" stroke-linecap="round"/>
<rect x="85.78" y="400.77" width="12.05" height="3.25" fill="#bcbcbc" stroke="#000" stroke-width="1.55"/>
<rect x="118.58" y="400.77" width="12.05" height="3.25" fill="#bcbcbc" stroke="#000" stroke-width="1.55"/>
<rect x="147.97" y="400.77" width="12.05" height="3.25" fill="#bcbcbc" stroke="#000" stroke-width="1.55"/>
<rect x="180.28" y="400.77" width="12.05" height="3.25" fill="#bcbcbc" stroke="#000" stroke-width="1.55"/>
<rect x="142.72" y="395.73" width="16.35" height="3.05" fill="#cfe0c0" stroke="#4a7a2c" stroke-width="1.45"/>
<rect x="103.97" y="407.40" width="4.05" height="2.4" fill="#fff"/>
<line x1="105.45" y1="404.20" x2="102.90" y2="413.00" stroke="#000" stroke-width="0.95"/>
<line x1="109.10" y1="404.20" x2="106.55" y2="413.00" stroke="#000" stroke-width="0.95"/>
<rect x="136.78" y="407.40" width="4.05" height="2.4" fill="#fff"/>
<line x1="138.25" y1="404.20" x2="135.70" y2="413.00" stroke="#000" stroke-width="0.95"/>
<line x1="141.90" y1="404.20" x2="139.35" y2="413.00" stroke="#000" stroke-width="0.95"/>
<rect x="166.98" y="407.40" width="4.05" height="2.4" fill="#fff"/>
<line x1="168.45" y1="404.20" x2="165.90" y2="413.00" stroke="#000" stroke-width="0.95"/>
<line x1="172.10" y1="404.20" x2="169.55" y2="413.00" stroke="#000" stroke-width="0.95"/>
<text x="28.3" y="417.7" font-size="13.0" text-anchor="start" >R82Q</text>
<line x1="213.0" y1="407.8" x2="213.0" y2="419.3" stroke="#000" stroke-width="1.25"/>
<text x="221.4" y="392.5" font-size="13.0" text-anchor="start" transform="rotate(90 221.4 392.5)" >0.5 nA</text>
<path d="M85.0,444.9 L85.5,463.8M95.5,453.8 L96.1,448.8M98.7,448.5 L99.3,447.0M118.3,444.9 L118.8,465.0M129.0,453.2 L129.6,450.5M131.7,450.2 L132.3,448.0M149.3,444.9 L149.8,455.9M162.5,450.7 L163.1,446.5M182.2,444.9 L182.7,462.5M194.0,451.8 L194.6,449.0M196.7,448.7 L197.3,447.0" fill="none" stroke="#dcdcdc" stroke-width="0.8" stroke-linejoin="round" stroke-linecap="round"/>
<path d="M74.5,444.9 L85.0,444.9M96.1,448.8 L98.7,448.5M99.3,447.0 L100.4,446.2 L101.5,445.7 L102.7,445.4 L103.8,445.2 L104.9,445.1 L106.0,445.0 L106.0,444.9 L118.3,444.9M129.6,450.5 L131.7,450.2M132.3,448.0 L133.6,446.8 L134.9,446.0 L136.2,445.6 L137.4,445.3 L138.7,445.2 L140.0,445.1 L140.0,444.9 L149.3,444.9M163.1,446.5 L164.4,445.9 L165.7,445.5 L167.1,445.3 L168.4,445.1 L169.7,445.0 L171.0,445.0 L171.0,444.9 L182.2,444.9M194.6,449.0 L196.7,448.7M197.3,447.0 L198.2,446.2 L199.2,445.7 L200.2,445.4 L201.1,445.2 L202.1,445.1 L203.0,445.0 L203.0,444.9 L203.2,444.9" fill="none" stroke="#c4c4c4" stroke-width="0.8" stroke-linejoin="round" stroke-linecap="round"/>
<path d="M85.5,463.8 L86.2,458.9 L86.8,456.4 L87.5,455.2 L88.2,454.5 L88.8,454.2 L89.5,454.0 L90.2,453.9 L90.8,453.8 L91.5,453.8 L92.2,453.8 L92.8,453.8 L93.5,453.8 L94.2,453.8 L94.8,453.8 L95.5,453.8M118.8,465.0 L119.5,459.3 L120.2,456.3 L120.8,454.8 L121.5,454.0 L122.2,453.6 L122.9,453.4 L123.6,453.3 L124.2,453.3 L124.9,453.2 L125.6,453.2 L126.3,453.2 L127.0,453.2 L127.6,453.2 L128.3,453.2 L129.0,453.2M149.8,455.9 L150.5,455.0 L151.1,454.3 L151.8,453.7 L152.5,453.2 L153.1,452.8 L153.8,452.4 L154.5,452.1 L155.1,451.8 L155.8,451.6 L156.5,451.4 L157.2,451.3 L157.8,451.2 L158.5,451.1 L159.2,451.0 L159.8,450.9 L160.5,450.8 L161.2,450.8 L161.8,450.7 L162.5,450.7M182.7,462.5 L183.4,457.5 L184.1,454.9 L184.8,453.4 L185.5,452.7 L186.2,452.3 L186.9,452.1 L187.6,451.9 L188.3,451.9 L189.1,451.8 L189.8,451.8 L190.5,451.8 L191.2,451.8 L191.9,451.8 L192.6,451.8 L193.3,451.8 L194.0,451.8" fill="none" stroke="#8a8a8a" stroke-width="0.8" stroke-linejoin="round" stroke-linecap="round"/>
<rect x="83.88" y="438.27" width="12.05" height="3.25" fill="#bcbcbc" stroke="#000" stroke-width="1.55"/>
<rect x="118.08" y="438.27" width="12.05" height="3.25" fill="#bcbcbc" stroke="#000" stroke-width="1.55"/>
<rect x="150.08" y="438.27" width="12.05" height="3.25" fill="#bcbcbc" stroke="#000" stroke-width="1.55"/>
<rect x="182.97" y="438.27" width="12.05" height="3.25" fill="#bcbcbc" stroke="#000" stroke-width="1.55"/>
<rect x="144.32" y="433.03" width="17.45" height="3.05" fill="#cfe0c0" stroke="#4a7a2c" stroke-width="1.45"/>
<rect x="105.27" y="443.70" width="4.05" height="2.4" fill="#fff"/>
<line x1="106.75" y1="440.50" x2="104.20" y2="449.30" stroke="#000" stroke-width="0.95"/>
<line x1="110.40" y1="440.50" x2="107.85" y2="449.30" stroke="#000" stroke-width="0.95"/>
<rect x="139.38" y="443.70" width="4.05" height="2.4" fill="#fff"/>
<line x1="140.85" y1="440.50" x2="138.30" y2="449.30" stroke="#000" stroke-width="0.95"/>
<line x1="144.50" y1="440.50" x2="141.95" y2="449.30" stroke="#000" stroke-width="0.95"/>
<rect x="170.98" y="443.70" width="4.05" height="2.4" fill="#fff"/>
<line x1="172.45" y1="440.50" x2="169.90" y2="449.30" stroke="#000" stroke-width="0.95"/>
<line x1="176.10" y1="440.50" x2="173.55" y2="449.30" stroke="#000" stroke-width="0.95"/>
<text x="28.3" y="454.4" font-size="13.0" text-anchor="start" >W84A</text>
<line x1="213.0" y1="449.2" x2="213.0" y2="460.7" stroke="#000" stroke-width="1.25"/>
<text x="221.4" y="436.3" font-size="13.0" text-anchor="start" transform="rotate(90 221.4 436.3)" >0.5 nA</text>
<path d="M295.5,280.3 V283.1" fill="none" stroke="#bbb" stroke-width="0.8"/>
<path d="M300.9,283.1 L301.2,305.5M335.4,283.1 L335.6,305.0M367.0,283.1 L367.2,295.1M400.4,283.1 L400.6,301.7" fill="none" stroke="#d0d0d0" stroke-width="0.8" stroke-linejoin="round" stroke-linecap="round"/>
<path d="M295.5,283.1 L300.9,283.1M319.6,285.3 L322.8,283.1 L335.4,283.1M349.3,284.7 L355.7,283.6 L357.0,283.1 L367.0,283.1M387.8,284.7 L389.0,283.1 L400.4,283.1M419.0,283.8 L421.0,283.4 L430.0,283.1" fill="none" stroke="#8a8a8a" stroke-width="0.8" stroke-linejoin="round" stroke-linecap="round"/>
<path d="M301.2,305.5 L301.3,304.8 L301.4,304.0 L301.5,303.1 L301.6,302.2 L301.9,301.4 L302.1,300.5 L302.4,299.7 L302.6,298.8 L302.9,297.9 L303.1,297.3 L303.9,297.1 L304.8,296.6 L305.6,296.6 L306.4,296.2 L307.1,296.1 L307.8,296.7 L308.5,296.7 L309.2,296.8 L309.9,296.6 L310.6,296.2 L311.4,295.7 L312.1,295.2 L312.8,294.5 L313.5,294.3 L313.7,293.7 L313.9,292.7 L314.1,292.0 L314.2,291.5 L314.4,290.7 L314.6,290.0 L314.6,289.2 L314.7,288.8 L314.7,287.9 L314.8,287.0 L314.8,286.4 L315.6,286.1 L316.3,286.0 L317.1,286.9 L317.9,287.4 L318.8,286.3 L319.6,285.3M335.6,305.0 L335.7,304.4 L335.9,303.4 L336.0,302.5 L336.1,301.9 L336.2,301.2 L336.4,300.1 L336.5,299.5 L337.1,298.7 L337.6,297.9 L338.2,296.8 L338.9,296.8 L339.7,296.6 L340.4,296.0 L341.1,296.1 L341.9,296.1 L342.6,295.7 L343.4,295.2 L344.1,295.0 L344.9,294.7 L345.7,294.6 L346.5,294.2 L347.2,294.0 L348.0,293.7 L348.2,293.1 L348.4,291.9 L348.6,291.1 L348.7,290.4 L348.9,289.6 L349.1,289.0 L349.1,288.1 L349.2,287.8 L349.2,287.0 L349.2,285.9 L349.3,285.4 L349.3,284.7M367.2,295.1 L367.4,294.2 L367.6,293.4 L367.9,292.6 L368.1,291.8 L368.8,291.4 L369.6,290.9 L370.3,290.4 L371.0,290.4 L371.8,290.5 L372.5,290.7 L373.2,290.7 L374.0,291.0 L374.7,291.1 L375.5,291.0 L376.2,290.7 L377.0,290.3 L377.7,290.2 L378.5,290.2 L378.9,289.4 L379.4,288.9 L379.8,288.2 L380.2,287.4 L381.0,287.1 L381.8,286.9 L382.9,287.4 L383.6,286.9 L384.4,286.1 L385.1,285.3 L386.0,285.1 L386.9,284.8 L387.8,284.7M400.6,301.7 L400.8,300.9 L401.0,300.2 L401.1,299.3 L401.3,298.7 L401.5,297.8 L402.1,296.9 L402.6,295.9 L403.2,295.1 L403.9,295.0 L404.7,294.9 L405.4,294.5 L406.1,294.5 L406.9,294.4 L407.6,294.3 L408.4,294.3 L409.1,294.1 L409.9,293.6 L410.7,293.7 L411.5,293.4 L412.2,293.0 L413.0,292.9 L413.3,292.2 L413.6,291.3 L413.8,290.9 L414.1,290.0 L414.2,289.2 L414.2,288.5 L414.3,287.4 L415.1,287.0 L415.8,286.4 L416.5,286.3 L417.3,286.1 L418.0,285.8 L418.5,284.8 L419.0,283.8" fill="none" stroke="#222" stroke-width="0.9" stroke-linejoin="round" stroke-linecap="round"/>
<rect x="301.77" y="276.77" width="12.05" height="3.25" fill="#bcbcbc" stroke="#000" stroke-width="1.55"/>
<rect x="335.97" y="276.77" width="12.05" height="3.25" fill="#bcbcbc" stroke="#000" stroke-width="1.55"/>
<rect x="367.38" y="276.77" width="12.05" height="3.25" fill="#bcbcbc" stroke="#000" stroke-width="1.55"/>
<rect x="400.97" y="276.77" width="12.05" height="3.25" fill="#bcbcbc" stroke="#000" stroke-width="1.55"/>
<rect x="361.73" y="271.73" width="18.25" height="3.15" fill="#cfe0c0" stroke="#4a7a2c" stroke-width="1.45"/>
<rect x="323.38" y="282.00" width="4.05" height="2.4" fill="#fff"/>
<line x1="324.85" y1="278.80" x2="322.30" y2="287.60" stroke="#000" stroke-width="0.95"/>
<line x1="328.50" y1="278.80" x2="325.95" y2="287.60" stroke="#000" stroke-width="0.95"/>
<rect x="357.38" y="282.00" width="4.05" height="2.4" fill="#fff"/>
<line x1="358.85" y1="278.80" x2="356.30" y2="287.60" stroke="#000" stroke-width="0.95"/>
<line x1="362.50" y1="278.80" x2="359.95" y2="287.60" stroke="#000" stroke-width="0.95"/>
<rect x="388.98" y="282.00" width="4.05" height="2.4" fill="#fff"/>
<line x1="390.45" y1="278.80" x2="387.90" y2="287.60" stroke="#000" stroke-width="0.95"/>
<line x1="394.10" y1="278.80" x2="391.55" y2="287.60" stroke="#000" stroke-width="0.95"/>
<text x="252.3" y="298.0" font-size="13.0" text-anchor="start" >D88W</text>
<line x1="434.6" y1="287.1" x2="434.6" y2="298.5" stroke="#000" stroke-width="1.25"/>
<text x="443.5" y="271.2" font-size="13.0" text-anchor="start" transform="rotate(90 443.5 271.2)" >0.25 nA</text>
<path d="M302.7,324.3 L303.2,347.9M312.8,335.7 L313.4,330.0M336.8,324.3 L337.3,349.5M348.7,334.0 L349.3,327.0M368.6,324.3 L369.1,337.2M380.0,330.0 L380.6,327.0M401.7,324.3 L402.2,344.2M414.0,332.6 L414.6,327.0" fill="none" stroke="#dcdcdc" stroke-width="0.8" stroke-linejoin="round" stroke-linecap="round"/>
<path d="M289.9,324.3 L302.7,324.3M313.4,330.0 L315.3,327.8 L317.3,326.4 L319.2,325.6 L321.1,325.1 L323.1,324.8 L325.0,324.6 L325.0,324.3 L336.8,324.3M349.3,327.0 L350.8,325.9 L352.2,325.3 L353.6,324.9 L355.1,324.7 L356.6,324.5 L358.0,324.4 L358.0,324.3 L368.6,324.3M380.6,327.0 L382.2,325.9 L383.7,325.3 L385.3,324.9 L386.9,324.7 L388.4,324.5 L390.0,324.4 L390.0,324.3 L401.7,324.3M414.6,327.0 L416.0,325.9 L417.4,325.3 L418.8,324.9 L420.2,324.7 L421.6,324.5 L423.0,324.4 L423.0,324.3 L424.7,324.3" fill="none" stroke="#c4c4c4" stroke-width="0.8" stroke-linejoin="round" stroke-linecap="round"/>
<path d="M303.2,347.9 L303.9,346.2 L304.6,344.7 L305.3,343.4 L305.9,342.2 L306.6,341.2 L307.3,340.2 L308.0,339.4 L308.7,338.7 L309.4,338.0 L310.1,337.4 L310.7,336.9 L311.4,336.5 L312.1,336.1 L312.8,335.7M337.3,349.5 L338.0,347.7 L338.6,346.1 L339.3,344.6 L340.0,343.3 L340.7,342.1 L341.3,341.0 L342.0,340.0 L342.7,339.1 L343.3,338.3 L344.0,337.6 L344.7,336.9 L345.3,336.3 L346.0,335.7 L346.7,335.2 L347.4,334.8 L348.0,334.4 L348.7,334.0M369.1,337.2 L369.8,336.3 L370.5,335.5 L371.1,334.8 L371.8,334.2 L372.5,333.6 L373.2,333.1 L373.9,332.6 L374.6,332.2 L375.2,331.8 L375.9,331.5 L376.6,331.1 L377.3,330.9 L378.0,330.6 L378.6,330.4 L379.3,330.2 L380.0,330.0M402.2,344.2 L402.9,342.9 L403.6,341.7 L404.3,340.6 L405.0,339.6 L405.7,338.7 L406.4,337.8 L407.1,337.1 L407.8,336.4 L408.4,335.8 L409.1,335.3 L409.8,334.8 L410.5,334.3 L411.2,333.9 L411.9,333.5 L412.6,333.2 L413.3,332.9 L414.0,332.6" fill="none" stroke="#9a9a9a" stroke-width="0.8" stroke-linejoin="round" stroke-linecap="round"/>
<rect x="302.88" y="318.67" width="12.05" height="3.25" fill="#bcbcbc" stroke="#000" stroke-width="1.55"/>
<rect x="337.17" y="318.67" width="12.05" height="3.25" fill="#bcbcbc" stroke="#000" stroke-width="1.55"/>
<rect x="368.77" y="318.67" width="12.05" height="3.25" fill="#bcbcbc" stroke="#000" stroke-width="1.55"/>
<rect x="401.88" y="318.67" width="12.05" height="3.25" fill="#bcbcbc" stroke="#000" stroke-width="1.55"/>
<rect x="363.23" y="313.43" width="17.25" height="2.45" fill="#cfe0c0" stroke="#4a7a2c" stroke-width="1.45"/>
<rect x="323.98" y="323.80" width="4.05" height="2.4" fill="#fff"/>
<line x1="325.45" y1="320.60" x2="322.90" y2="329.40" stroke="#000" stroke-width="0.95"/>
<line x1="329.10" y1="320.60" x2="326.55" y2="329.40" stroke="#000" stroke-width="0.95"/>
<rect x="357.68" y="323.80" width="4.05" height="2.4" fill="#fff"/>
<line x1="359.15" y1="320.60" x2="356.60" y2="329.40" stroke="#000" stroke-width="0.95"/>
<line x1="362.80" y1="320.60" x2="360.25" y2="329.40" stroke="#000" stroke-width="0.95"/>
<rect x="389.58" y="323.80" width="4.05" height="2.4" fill="#fff"/>
<line x1="391.05" y1="320.60" x2="388.50" y2="329.40" stroke="#000" stroke-width="0.95"/>
<line x1="394.70" y1="320.60" x2="392.15" y2="329.40" stroke="#000" stroke-width="0.95"/>
<text x="259.2" y="336.6" font-size="13.0" text-anchor="start" >I91A</text>
<line x1="434.6" y1="329.9" x2="434.6" y2="341.4" stroke="#000" stroke-width="1.25"/>
<text x="443.5" y="324.9" font-size="13.0" text-anchor="start" transform="rotate(90 443.5 324.9)" >1 nA</text>
<path d="M305.2,367.1 L305.7,383.3M316.8,374.8 L317.4,369.5M338.1,367.1 L338.6,383.3M349.8,374.2 L350.4,369.5M368.2,367.1 L368.7,381.8M379.2,374.6 L379.8,369.5M399.8,367.1 L400.3,381.8M411.5,373.8 L412.1,369.0" fill="none" stroke="#dcdcdc" stroke-width="0.8" stroke-linejoin="round" stroke-linecap="round"/>
<path d="M293.8,367.1 L305.2,367.1M317.4,369.5 L318.8,368.6 L320.3,368.0 L321.7,367.6 L323.1,367.4 L324.6,367.3 L326.0,367.2 L326.0,367.1 L338.1,367.1M350.4,369.5 L351.7,368.6 L352.9,368.0 L354.2,367.6 L355.5,367.4 L356.7,367.3 L358.0,367.2 L358.0,367.1 L368.2,367.1M379.8,369.5 L381.3,368.6 L382.9,368.0 L384.4,367.6 L385.9,367.4 L387.5,367.3 L389.0,367.2 L389.0,367.1 L399.8,367.1M412.1,369.0 L413.6,368.3 L415.1,367.8 L416.6,367.5 L418.0,367.4 L419.5,367.3 L421.0,367.2 L421.0,367.1 L424.7,367.1" fill="none" stroke="#c4c4c4" stroke-width="0.8" stroke-linejoin="round" stroke-linecap="round"/>
<path d="M305.7,383.3 L306.4,381.4 L307.1,379.9 L307.8,378.7 L308.5,377.8 L309.2,377.1 L309.9,376.6 L310.6,376.1 L311.2,375.8 L311.9,375.6 L312.6,375.4 L313.3,375.2 L314.0,375.1 L314.7,375.0 L315.4,374.9 L316.1,374.8 L316.8,374.8M338.6,383.3 L339.3,381.2 L340.0,379.7 L340.7,378.4 L341.4,377.4 L342.1,376.7 L342.8,376.1 L343.5,375.6 L344.2,375.3 L344.9,375.0 L345.6,374.8 L346.3,374.6 L347.0,374.5 L347.7,374.4 L348.4,374.3 L349.1,374.2 L349.8,374.2M368.7,381.8 L369.4,380.1 L370.1,378.8 L370.8,377.8 L371.5,377.0 L372.2,376.4 L372.9,375.9 L373.6,375.6 L374.3,375.3 L375.0,375.1 L375.7,375.0 L376.4,374.9 L377.1,374.8 L377.8,374.7 L378.5,374.6 L379.2,374.6M400.3,381.8 L401.0,380.0 L401.7,378.6 L402.4,377.5 L403.1,376.6 L403.8,376.0 L404.5,375.5 L405.2,375.1 L405.9,374.8 L406.6,374.5 L407.3,374.3 L408.0,374.2 L408.7,374.1 L409.4,374.0 L410.1,373.9 L410.8,373.8 L411.5,373.8" fill="none" stroke="#909090" stroke-width="0.8" stroke-linejoin="round" stroke-linecap="round"/>
<rect x="305.97" y="361.07" width="12.05" height="3.25" fill="#bcbcbc" stroke="#000" stroke-width="1.55"/>
<rect x="338.77" y="361.07" width="12.05" height="3.25" fill="#bcbcbc" stroke="#000" stroke-width="1.55"/>
<rect x="368.77" y="361.07" width="12.05" height="3.25" fill="#bcbcbc" stroke="#000" stroke-width="1.55"/>
<rect x="400.38" y="361.07" width="12.05" height="3.25" fill="#bcbcbc" stroke="#000" stroke-width="1.55"/>
<rect x="362.62" y="356.12" width="16.95" height="2.55" fill="#cfe0c0" stroke="#4a7a2c" stroke-width="1.45"/>
<rect x="324.58" y="366.80" width="4.05" height="2.4" fill="#fff"/>
<line x1="326.05" y1="363.60" x2="323.50" y2="372.40" stroke="#000" stroke-width="0.95"/>
<line x1="329.70" y1="363.60" x2="327.15" y2="372.40" stroke="#000" stroke-width="0.95"/>
<rect x="356.78" y="366.80" width="4.05" height="2.4" fill="#fff"/>
<line x1="358.25" y1="363.60" x2="355.70" y2="372.40" stroke="#000" stroke-width="0.95"/>
<line x1="361.90" y1="363.60" x2="359.35" y2="372.40" stroke="#000" stroke-width="0.95"/>
<rect x="387.48" y="366.80" width="4.05" height="2.4" fill="#fff"/>
<line x1="388.95" y1="363.60" x2="386.40" y2="372.40" stroke="#000" stroke-width="0.95"/>
<line x1="392.60" y1="363.60" x2="390.05" y2="372.40" stroke="#000" stroke-width="0.95"/>
<text x="260.7" y="377.2" font-size="13.0" text-anchor="start" >I91T</text>
<line x1="434.6" y1="367.6" x2="434.6" y2="379.1" stroke="#000" stroke-width="1.25"/>
<text x="443.5" y="364.9" font-size="13.0" text-anchor="start" transform="rotate(90 443.5 364.9)" >2 nA</text>
<path d="M304.6,404.9 L305.1,423.3M316.8,413.2 L317.4,408.9M338.9,404.9 L339.4,421.2M350.5,412.0 L351.1,408.5M370.2,404.9 L370.7,421.8M381.8,411.0 L382.4,408.0M403.3,404.9 L403.8,420.3M415.5,410.1 L416.1,406.5" fill="none" stroke="#dcdcdc" stroke-width="0.8" stroke-linejoin="round" stroke-linecap="round"/>
<path d="M294.5,404.9 L304.6,404.9M317.4,408.9 L319.2,407.3 L320.9,406.4 L322.7,405.8 L324.5,405.4 L326.2,405.2 L328.0,405.1 L328.0,404.9 L338.9,404.9M351.1,408.5 L352.8,407.1 L354.4,406.2 L356.1,405.7 L357.7,405.4 L359.4,405.2 L361.0,405.1 L361.0,404.9 L370.2,404.9M382.4,408.0 L384.2,406.8 L385.9,406.0 L387.7,405.6 L389.5,405.3 L391.2,405.2 L393.0,405.1 L393.0,404.9 L403.3,404.9M416.1,406.5 L417.8,405.9 L419.4,405.5 L421.1,405.3 L422.7,405.1 L424.4,405.0 L426.0,405.0 L426.0,404.9 L427.8,404.9" fill="none" stroke="#c4c4c4" stroke-width="0.8" stroke-linejoin="round" stroke-linecap="round"/>
<path d="M305.1,423.3 L305.8,421.4 L306.5,419.9 L307.2,418.6 L307.9,417.6 L308.5,416.8 L309.2,416.1 L309.9,415.5 L310.6,415.0 L311.3,414.6 L312.0,414.3 L312.7,414.0 L313.4,413.8 L314.0,413.6 L314.7,413.5 L315.4,413.4 L316.1,413.3 L316.8,413.2M339.4,421.2 L340.1,419.4 L340.8,417.9 L341.5,416.8 L342.2,415.8 L342.9,415.0 L343.6,414.4 L344.3,413.9 L344.9,413.5 L345.6,413.1 L346.3,412.8 L347.0,412.6 L347.7,412.4 L348.4,412.3 L349.1,412.2 L349.8,412.1 L350.5,412.0M370.7,421.8 L371.4,419.7 L372.1,418.0 L372.8,416.6 L373.5,415.5 L374.2,414.6 L374.9,413.8 L375.6,413.2 L376.2,412.7 L376.9,412.3 L377.6,412.0 L378.3,411.7 L379.0,411.5 L379.7,411.3 L380.4,411.2 L381.1,411.1 L381.8,411.0M403.8,420.3 L404.5,418.4 L405.2,416.9 L405.9,415.6 L406.6,414.6 L407.2,413.7 L407.9,413.0 L408.6,412.4 L409.3,411.9 L410.0,411.5 L410.7,411.2 L411.4,410.9 L412.1,410.7 L412.7,410.5 L413.4,410.4 L414.1,410.3 L414.8,410.2 L415.5,410.1" fill="none" stroke="#8a8a8a" stroke-width="0.8" stroke-linejoin="round" stroke-linecap="round"/>
<rect x="305.07" y="398.97" width="12.05" height="3.25" fill="#bcbcbc" stroke="#000" stroke-width="1.55"/>
<rect x="338.77" y="398.97" width="12.05" height="3.25" fill="#bcbcbc" stroke="#000" stroke-width="1.55"/>
<rect x="370.38" y="398.97" width="12.05" height="3.25" fill="#bcbcbc" stroke="#000" stroke-width="1.55"/>
<rect x="403.47" y="398.97" width="12.05" height="3.25" fill="#bcbcbc" stroke="#000" stroke-width="1.55"/>
<rect x="363.53" y="393.12" width="17.55" height="2.45" fill="#cfe0c0" stroke="#4a7a2c" stroke-width="1.45"/>
<rect x="326.18" y="404.60" width="4.05" height="2.4" fill="#fff"/>
<line x1="327.65" y1="401.40" x2="325.10" y2="410.20" stroke="#000" stroke-width="0.95"/>
<line x1="331.30" y1="401.40" x2="328.75" y2="410.20" stroke="#000" stroke-width="0.95"/>
<rect x="359.88" y="404.60" width="4.05" height="2.4" fill="#fff"/>
<line x1="361.35" y1="401.40" x2="358.80" y2="410.20" stroke="#000" stroke-width="0.95"/>
<line x1="365.00" y1="401.40" x2="362.45" y2="410.20" stroke="#000" stroke-width="0.95"/>
<rect x="391.48" y="404.60" width="4.05" height="2.4" fill="#fff"/>
<line x1="392.95" y1="401.40" x2="390.40" y2="410.20" stroke="#000" stroke-width="0.95"/>
<line x1="396.60" y1="401.40" x2="394.05" y2="410.20" stroke="#000" stroke-width="0.95"/>
<text x="251.5" y="418.7" font-size="13.0" text-anchor="start" >F296W</text>
<line x1="434.9" y1="410.1" x2="434.9" y2="421.5" stroke="#000" stroke-width="1.25"/>
<text x="443.5" y="401.9" font-size="13.0" text-anchor="start" transform="rotate(90 443.5 401.9)" >2 nA</text>
<path d="M302.1,445.4 L302.6,454.0M314.4,448.8 L315.0,446.5M336.4,445.4 L336.9,456.1M348.1,449.4 L348.7,446.5M368.0,445.4 L368.5,447.8M380.3,447.4 L380.9,445.8M401.1,445.4 L401.6,454.9M412.5,449.4 L413.1,446.5" fill="none" stroke="#dcdcdc" stroke-width="0.8" stroke-linejoin="round" stroke-linecap="round"/>
<path d="M294.5,445.4 L302.1,445.4M315.0,446.5 L316.2,446.1 L317.3,445.8 L318.5,445.6 L319.7,445.5 L320.8,445.5 L322.0,445.5 L322.0,445.4 L336.4,445.4M348.7,446.5 L349.9,446.1 L351.1,445.8 L352.4,445.6 L353.6,445.5 L354.8,445.5 L356.0,445.5 L356.0,445.4 L368.0,445.4M380.9,445.8 L381.4,445.6 L381.9,445.5 L382.5,445.5 L383.0,445.5 L383.5,445.4 L384.0,445.4 L384.0,445.4 L401.1,445.4M413.1,446.5 L414.4,446.1 L415.7,445.8 L417.1,445.6 L418.4,445.5 L419.7,445.5 L421.0,445.5 L421.0,445.4 L423.2,445.4" fill="none" stroke="#c4c4c4" stroke-width="0.8" stroke-linejoin="round" stroke-linecap="round"/>
<path d="M302.6,454.0 L303.3,453.2 L304.0,452.6 L304.7,452.0 L305.4,451.5 L306.1,451.1 L306.8,450.7 L307.5,450.4 L308.2,450.1 L308.8,449.8 L309.5,449.6 L310.2,449.5 L310.9,449.3 L311.6,449.2 L312.3,449.1 L313.0,449.0 L313.7,448.9 L314.4,448.8M336.9,456.1 L337.6,455.0 L338.3,454.1 L339.0,453.4 L339.7,452.7 L340.4,452.1 L341.1,451.7 L341.8,451.2 L342.5,450.9 L343.2,450.6 L343.9,450.3 L344.6,450.1 L345.3,449.9 L346.0,449.8 L346.7,449.6 L347.4,449.5 L348.1,449.4M368.5,447.8 L369.2,447.8 L369.9,447.8 L370.6,447.7 L371.3,447.7 L372.0,447.7 L372.7,447.7 L373.4,447.6 L374.1,447.6 L374.7,447.6 L375.4,447.6 L376.1,447.5 L376.8,447.5 L377.5,447.5 L378.2,447.5 L378.9,447.4 L379.6,447.4 L380.3,447.4M401.6,454.9 L402.3,454.0 L403.0,453.3 L403.6,452.7 L404.3,452.1 L405.0,451.7 L405.7,451.3 L406.4,450.9 L407.1,450.6 L407.7,450.4 L408.4,450.2 L409.1,450.0 L409.8,449.8 L410.5,449.7 L411.1,449.6 L411.8,449.5 L412.5,449.4" fill="none" stroke="#8a8a8a" stroke-width="0.8" stroke-linejoin="round" stroke-linecap="round"/>
<rect x="302.27" y="438.17" width="12.05" height="3.25" fill="#bcbcbc" stroke="#000" stroke-width="1.55"/>
<rect x="335.97" y="438.17" width="12.05" height="3.25" fill="#bcbcbc" stroke="#000" stroke-width="1.55"/>
<rect x="368.17" y="438.17" width="12.05" height="3.25" fill="#bcbcbc" stroke="#000" stroke-width="1.55"/>
<rect x="400.97" y="438.17" width="12.05" height="3.25" fill="#bcbcbc" stroke="#000" stroke-width="1.55"/>
<rect x="361.73" y="432.62" width="17.85" height="2.55" fill="#cfe0c0" stroke="#4a7a2c" stroke-width="1.45"/>
<rect x="322.48" y="442.00" width="4.05" height="2.4" fill="#fff"/>
<line x1="323.95" y1="438.80" x2="321.40" y2="447.60" stroke="#000" stroke-width="0.95"/>
<line x1="327.60" y1="438.80" x2="325.05" y2="447.60" stroke="#000" stroke-width="0.95"/>
<rect x="356.78" y="442.00" width="4.05" height="2.4" fill="#fff"/>
<line x1="358.25" y1="438.80" x2="355.70" y2="447.60" stroke="#000" stroke-width="0.95"/>
<line x1="361.90" y1="438.80" x2="359.35" y2="447.60" stroke="#000" stroke-width="0.95"/>
<rect x="388.98" y="442.00" width="4.05" height="2.4" fill="#fff"/>
<line x1="390.45" y1="438.80" x2="387.90" y2="447.60" stroke="#000" stroke-width="0.95"/>
<line x1="394.10" y1="438.80" x2="391.55" y2="447.60" stroke="#000" stroke-width="0.95"/>
<text x="251.5" y="454.0" font-size="13.0" text-anchor="start" >K298V</text>
<line x1="434.9" y1="444.1" x2="434.9" y2="455.6" stroke="#000" stroke-width="1.25"/>
<text x="443.5" y="437.1" font-size="13.0" text-anchor="start" transform="rotate(90 443.5 437.1)" >1 nA</text>
<path d="M521.9,282.0 L522.4,296.2M534.9,288.2 L535.5,284.0M556.0,282.0 L556.5,295.3M568.6,287.6 L569.2,284.0M587.6,282.0 L588.1,293.0M599.9,287.0 L600.5,283.5M621.3,282.0 L621.8,295.3M633.6,287.0 L634.2,283.5" fill="none" stroke="#dcdcdc" stroke-width="0.8" stroke-linejoin="round" stroke-linecap="round"/>
<path d="M514.0,282.0 L521.9,282.0M535.5,284.0 L536.9,283.2 L538.3,282.7 L539.8,282.4 L541.2,282.3 L542.6,282.2 L544.0,282.1 L544.0,282.0 L556.0,282.0M569.2,284.0 L570.5,283.2 L571.8,282.7 L573.1,282.4 L574.4,282.3 L575.7,282.2 L577.0,282.1 L577.0,282.0 L587.6,282.0M600.5,283.5 L601.9,282.9 L603.3,282.6 L604.8,282.3 L606.2,282.2 L607.6,282.1 L609.0,282.1 L609.0,282.0 L621.3,282.0M634.2,283.5 L635.7,282.9 L637.1,282.6 L638.6,282.3 L640.1,282.2 L641.5,282.1 L643.0,282.1 L643.0,282.0 L644.3,282.0" fill="none" stroke="#c4c4c4" stroke-width="0.8" stroke-linejoin="round" stroke-linecap="round"/>
<path d="M522.4,296.2 L523.1,295.1 L523.8,294.1 L524.5,293.2 L525.2,292.5 L525.9,291.8 L526.6,291.3 L527.3,290.8 L528.0,290.4 L528.6,290.0 L529.3,289.7 L530.0,289.4 L530.7,289.1 L531.4,288.9 L532.1,288.7 L532.8,288.6 L533.5,288.4 L534.2,288.3 L534.9,288.2M556.5,295.3 L557.2,294.2 L557.8,293.3 L558.5,292.4 L559.2,291.7 L559.9,291.1 L560.5,290.6 L561.2,290.1 L561.9,289.7 L562.5,289.3 L563.2,289.0 L563.9,288.7 L564.6,288.5 L565.2,288.3 L565.9,288.1 L566.6,288.0 L567.3,287.8 L567.9,287.7 L568.6,287.6M588.1,293.0 L588.8,292.2 L589.5,291.5 L590.2,290.9 L590.9,290.4 L591.6,289.9 L592.3,289.5 L593.0,289.1 L593.7,288.8 L594.3,288.5 L595.0,288.2 L595.7,288.0 L596.4,287.8 L597.1,287.6 L597.8,287.4 L598.5,287.2 L599.2,287.1 L599.9,287.0M621.8,295.3 L622.5,294.1 L623.2,293.0 L623.9,292.1 L624.6,291.3 L625.3,290.6 L626.0,290.0 L626.7,289.5 L627.4,289.0 L628.0,288.7 L628.7,288.3 L629.4,288.1 L630.1,287.8 L630.8,287.6 L631.5,287.4 L632.2,287.3 L632.9,287.1 L633.6,287.0" fill="none" stroke="#a4a4a4" stroke-width="0.8" stroke-linejoin="round" stroke-linecap="round"/>
<rect x="522.48" y="275.47" width="12.05" height="3.25" fill="#bcbcbc" stroke="#000" stroke-width="1.55"/>
<rect x="556.17" y="275.47" width="12.05" height="3.25" fill="#bcbcbc" stroke="#000" stroke-width="1.55"/>
<rect x="587.77" y="275.47" width="12.05" height="3.25" fill="#bcbcbc" stroke="#000" stroke-width="1.55"/>
<rect x="621.17" y="275.47" width="12.05" height="3.25" fill="#bcbcbc" stroke="#000" stroke-width="1.55"/>
<rect x="582.23" y="270.53" width="17.55" height="2.55" fill="#cfe0c0" stroke="#4a7a2c" stroke-width="1.45"/>
<rect x="543.27" y="280.30" width="4.05" height="2.4" fill="#fff"/>
<line x1="544.75" y1="277.10" x2="542.20" y2="285.90" stroke="#000" stroke-width="0.95"/>
<line x1="548.40" y1="277.10" x2="545.85" y2="285.90" stroke="#000" stroke-width="0.95"/>
<rect x="576.97" y="280.30" width="4.05" height="2.4" fill="#fff"/>
<line x1="578.45" y1="277.10" x2="575.90" y2="285.90" stroke="#000" stroke-width="0.95"/>
<line x1="582.10" y1="277.10" x2="579.55" y2="285.90" stroke="#000" stroke-width="0.95"/>
<rect x="609.47" y="280.30" width="4.05" height="2.4" fill="#fff"/>
<line x1="610.95" y1="277.10" x2="608.40" y2="285.90" stroke="#000" stroke-width="0.95"/>
<line x1="614.60" y1="277.10" x2="612.05" y2="285.90" stroke="#000" stroke-width="0.95"/>
<text x="471.1" y="293.1" font-size="13.0" text-anchor="start" >K298R</text>
<line x1="657.5" y1="286.5" x2="657.5" y2="297.9" stroke="#000" stroke-width="1.25"/>
<text x="664.8" y="271.6" font-size="13.0" text-anchor="start" transform="rotate(90 664.8 271.6)" >2 nA</text>
<path d="M521.3,326.5 L521.8,337.2M534.0,335.7 L534.6,329.5M555.4,326.5 L555.9,337.2M567.7,335.0 L568.3,329.5M586.9,326.5 L587.4,329.5M599.9,331.0 L600.5,328.0M620.4,326.5 L620.9,337.2M633.0,335.0 L633.6,329.0" fill="none" stroke="#dcdcdc" stroke-width="0.8" stroke-linejoin="round" stroke-linecap="round"/>
<path d="M514.0,326.5 L521.3,326.5M534.6,329.5 L535.8,328.3 L537.1,327.6 L538.3,327.2 L539.5,326.9 L540.8,326.7 L542.0,326.6 L542.0,326.5 L555.4,326.5M568.3,329.5 L569.6,328.3 L570.9,327.6 L572.2,327.2 L573.4,326.9 L574.7,326.7 L576.0,326.6 L576.0,326.5 L586.9,326.5M600.5,328.0 L601.6,327.4 L602.7,327.1 L603.8,326.8 L604.8,326.7 L605.9,326.6 L607.0,326.6 L607.0,326.5 L620.4,326.5M633.6,329.0 L634.7,328.0 L635.7,327.4 L636.8,327.1 L637.9,326.8 L638.9,326.7 L640.0,326.6 L640.0,326.5 L644.3,326.5" fill="none" stroke="#c4c4c4" stroke-width="0.8" stroke-linejoin="round" stroke-linecap="round"/>
<path d="M521.8,337.2 L522.5,337.1 L523.2,337.0 L523.8,336.9 L524.5,336.9 L525.2,336.8 L525.9,336.7 L526.5,336.6 L527.2,336.5 L527.9,336.4 L528.6,336.4 L529.3,336.3 L529.9,336.2 L530.6,336.1 L531.3,336.0 L532.0,335.9 L532.6,335.9 L533.3,335.8 L534.0,335.7M555.9,337.2 L556.6,337.1 L557.3,336.9 L558.0,336.8 L558.7,336.7 L559.4,336.6 L560.1,336.4 L560.8,336.3 L561.5,336.2 L562.1,336.0 L562.8,335.9 L563.5,335.8 L564.2,335.6 L564.9,335.5 L565.6,335.4 L566.3,335.3 L567.0,335.1 L567.7,335.0M587.4,329.5 L588.1,329.6 L588.8,329.7 L589.5,329.8 L590.2,329.8 L590.9,329.9 L591.6,330.0 L592.3,330.1 L593.0,330.2 L593.6,330.2 L594.3,330.3 L595.0,330.4 L595.7,330.5 L596.4,330.6 L597.1,330.7 L597.8,330.8 L598.5,330.8 L599.2,330.9 L599.9,331.0M620.9,337.2 L621.6,337.1 L622.2,337.0 L622.9,336.8 L623.6,336.7 L624.3,336.6 L624.9,336.5 L625.6,336.3 L626.3,336.2 L627.0,336.1 L627.6,336.0 L628.3,335.9 L629.0,335.7 L629.6,335.6 L630.3,335.5 L631.0,335.4 L631.7,335.2 L632.3,335.1 L633.0,335.0" fill="none" stroke="#909090" stroke-width="0.8" stroke-linejoin="round" stroke-linecap="round"/>
<rect x="521.88" y="320.17" width="12.05" height="3.25" fill="#bcbcbc" stroke="#000" stroke-width="1.55"/>
<rect x="555.57" y="320.17" width="12.05" height="3.25" fill="#bcbcbc" stroke="#000" stroke-width="1.55"/>
<rect x="587.48" y="320.17" width="12.05" height="3.25" fill="#bcbcbc" stroke="#000" stroke-width="1.55"/>
<rect x="620.27" y="320.17" width="12.05" height="3.25" fill="#bcbcbc" stroke="#000" stroke-width="1.55"/>
<rect x="581.62" y="315.23" width="17.55" height="2.55" fill="#cfe0c0" stroke="#4a7a2c" stroke-width="1.45"/>
<rect x="543.27" y="325.30" width="4.05" height="2.4" fill="#fff"/>
<line x1="544.75" y1="322.10" x2="542.20" y2="330.90" stroke="#000" stroke-width="0.95"/>
<line x1="548.40" y1="322.10" x2="545.85" y2="330.90" stroke="#000" stroke-width="0.95"/>
<rect x="576.97" y="325.30" width="4.05" height="2.4" fill="#fff"/>
<line x1="578.45" y1="322.10" x2="575.90" y2="330.90" stroke="#000" stroke-width="0.95"/>
<line x1="582.10" y1="322.10" x2="579.55" y2="330.90" stroke="#000" stroke-width="0.95"/>
<rect x="609.47" y="325.30" width="4.05" height="2.4" fill="#fff"/>
<line x1="610.95" y1="322.10" x2="608.40" y2="330.90" stroke="#000" stroke-width="0.95"/>
<line x1="614.60" y1="322.10" x2="612.05" y2="330.90" stroke="#000" stroke-width="0.95"/>
<text x="471.7" y="337.8" font-size="13.0" text-anchor="start" >Y299A</text>
<line x1="657.5" y1="328.7" x2="657.5" y2="340.1" stroke="#000" stroke-width="1.25"/>
<text x="664.8" y="316.6" font-size="13.0" text-anchor="start" transform="rotate(90 664.8 316.6)" >1 nA</text>
<path d="M527.8,368.0 L528.3,387.3M538.6,376.1 L539.2,370.0M561.6,368.0 L562.1,385.5M572.9,375.1 L573.5,370.0M590.9,368.0 L591.4,370.0M603.0,370.0 L603.6,368.5M622.9,368.0 L623.4,381.2M634.5,375.1 L635.1,370.0" fill="none" stroke="#dcdcdc" stroke-width="0.8" stroke-linejoin="round" stroke-linecap="round"/>
<path d="M515.6,368.0 L527.8,368.0M539.2,370.0 L540.7,369.2 L542.1,368.7 L543.6,368.4 L545.1,368.3 L546.5,368.2 L548.0,368.1 L548.0,368.0 L561.6,368.0M573.5,370.0 L574.6,369.2 L575.7,368.7 L576.8,368.4 L577.8,368.3 L578.9,368.2 L580.0,368.1 L580.0,368.0 L590.9,368.0M603.6,368.5 L604.2,368.3 L604.7,368.2 L605.3,368.1 L605.9,368.1 L606.4,368.0 L607.0,368.0 L607.0,368.0 L622.9,368.0M635.1,370.0 L636.6,369.2 L638.1,368.7 L639.5,368.4 L641.0,368.3 L642.5,368.2 L644.0,368.1 L644.0,368.0 L645.3,368.0" fill="none" stroke="#c4c4c4" stroke-width="0.8" stroke-linejoin="round" stroke-linecap="round"/>
<path d="M528.3,387.3 L529.0,385.4 L529.7,384.3 L530.4,382.7 L531.0,381.7 L531.7,381.1 L532.4,379.8 L533.1,379.1 L533.8,378.5 L534.5,378.4 L535.2,377.5 L535.9,377.0 L536.5,377.1 L537.2,376.3 L537.9,376.5 L538.6,376.1M562.1,385.5 L562.8,384.3 L563.5,383.2 L564.1,381.9 L564.8,381.0 L565.5,379.7 L566.1,379.4 L566.8,378.6 L567.5,378.2 L568.2,377.3 L568.9,377.2 L569.5,376.9 L570.2,376.1 L570.9,375.9 L571.5,375.8 L572.2,375.7 L572.9,375.1M591.4,370.0 L592.1,370.0 L592.8,370.0 L593.4,370.0 L594.1,370.0 L594.8,370.0 L595.5,370.0 L596.2,370.0 L596.9,370.0 L597.5,370.0 L598.2,370.0 L598.9,370.0 L599.6,370.0 L600.3,370.0 L601.0,370.0 L601.6,370.0 L602.3,370.0 L603.0,370.0M623.4,381.2 L624.1,379.8 L624.8,378.9 L625.5,378.3 L626.2,377.7 L626.9,377.0 L627.6,376.5 L628.3,376.2 L629.0,375.9 L629.6,375.7 L630.3,375.3 L631.0,375.4 L631.7,375.6 L632.4,375.1 L633.1,375.3 L633.8,374.8 L634.5,375.1" fill="none" stroke="#5a5a5a" stroke-width="0.6" stroke-linejoin="round" stroke-linecap="round"/>
<rect x="527.98" y="361.67" width="12.05" height="3.25" fill="#bcbcbc" stroke="#000" stroke-width="1.55"/>
<rect x="561.77" y="361.67" width="12.05" height="3.25" fill="#bcbcbc" stroke="#000" stroke-width="1.55"/>
<rect x="591.48" y="361.67" width="12.05" height="3.25" fill="#bcbcbc" stroke="#000" stroke-width="1.55"/>
<rect x="623.07" y="361.67" width="12.05" height="3.25" fill="#bcbcbc" stroke="#000" stroke-width="1.55"/>
<rect x="585.33" y="357.03" width="16.95" height="2.55" fill="#cfe0c0" stroke="#4a7a2c" stroke-width="1.45"/>
<rect x="547.27" y="367.70" width="4.05" height="2.4" fill="#fff"/>
<line x1="548.75" y1="364.50" x2="546.20" y2="373.30" stroke="#000" stroke-width="0.95"/>
<line x1="552.40" y1="364.50" x2="549.85" y2="373.30" stroke="#000" stroke-width="0.95"/>
<rect x="579.47" y="367.70" width="4.05" height="2.4" fill="#fff"/>
<line x1="580.95" y1="364.50" x2="578.40" y2="373.30" stroke="#000" stroke-width="0.95"/>
<line x1="584.60" y1="364.50" x2="582.05" y2="373.30" stroke="#000" stroke-width="0.95"/>
<rect x="610.07" y="367.70" width="4.05" height="2.4" fill="#fff"/>
<line x1="611.55" y1="364.50" x2="609.00" y2="373.30" stroke="#000" stroke-width="0.95"/>
<line x1="615.20" y1="364.50" x2="612.65" y2="373.30" stroke="#000" stroke-width="0.95"/>
<text x="473.6" y="378.7" font-size="13.0" text-anchor="start" >E307T</text>
<line x1="657.5" y1="370.4" x2="657.5" y2="381.8" stroke="#000" stroke-width="1.25"/>
<text x="664.8" y="352.7" font-size="13.0" text-anchor="start" transform="rotate(90 664.8 352.7)" >0.5 nA</text>
<path d="M529.6,411.0 L530.1,418.1M541.6,417.2 L542.2,412.0M563.1,411.0 L563.6,420.3M574.8,418.7 L575.4,412.0M592.4,411.0 L592.9,412.6M605.0,412.6 L605.6,411.3M625.0,411.0 L625.5,421.2M636.7,420.3 L637.3,412.0" fill="none" stroke="#dcdcdc" stroke-width="0.8" stroke-linejoin="round" stroke-linecap="round"/>
<path d="M518.6,411.0 L529.6,411.0M542.2,412.0 L543.3,411.6 L544.5,411.4 L545.6,411.2 L546.7,411.1 L547.9,411.1 L549.0,411.0 L549.0,411.0 L563.1,411.0M575.4,412.0 L576.5,411.6 L577.6,411.4 L578.7,411.2 L579.8,411.1 L580.9,411.1 L582.0,411.0 L582.0,411.0 L592.4,411.0M605.6,411.3 L606.2,411.2 L606.7,411.1 L607.3,411.1 L607.9,411.0 L608.4,411.0 L609.0,411.0 L609.0,411.0 L625.0,411.0M637.3,412.0 L638.6,411.6 L639.9,411.4 L641.2,411.2 L642.4,411.1 L643.7,411.1 L645.0,411.0 L645.0,411.0 L648.9,411.0" fill="none" stroke="#c4c4c4" stroke-width="0.8" stroke-linejoin="round" stroke-linecap="round"/>
<path d="M530.1,418.1 L530.8,418.0 L531.5,418.0 L532.1,417.9 L532.8,417.9 L533.5,417.8 L534.2,417.8 L534.8,417.7 L535.5,417.7 L536.2,417.6 L536.9,417.6 L537.5,417.5 L538.2,417.5 L538.9,417.4 L539.6,417.4 L540.2,417.3 L540.9,417.3 L541.6,417.2M563.6,420.3 L564.3,420.2 L565.0,420.1 L565.7,420.0 L566.4,419.9 L567.1,419.8 L567.8,419.7 L568.5,419.6 L569.2,419.5 L569.9,419.4 L570.6,419.3 L571.3,419.2 L572.0,419.1 L572.7,419.0 L573.4,418.9 L574.1,418.8 L574.8,418.7M592.9,412.6 L593.6,412.6 L594.2,412.6 L594.9,412.6 L595.6,412.6 L596.3,412.6 L596.9,412.6 L597.6,412.6 L598.3,412.6 L599.0,412.6 L599.6,412.6 L600.3,412.6 L601.0,412.6 L601.6,412.6 L602.3,412.6 L603.0,412.6 L603.7,412.6 L604.3,412.6 L605.0,412.6M625.5,421.2 L626.2,421.1 L626.9,421.1 L627.6,421.0 L628.3,421.0 L629.0,420.9 L629.7,420.9 L630.4,420.8 L631.1,420.8 L631.8,420.7 L632.5,420.6 L633.2,420.6 L633.9,420.5 L634.6,420.5 L635.3,420.4 L636.0,420.4 L636.7,420.3" fill="none" stroke="#9a9a9a" stroke-width="0.8" stroke-linejoin="round" stroke-linecap="round"/>
<rect x="530.17" y="404.77" width="12.05" height="3.25" fill="#bcbcbc" stroke="#000" stroke-width="1.55"/>
<rect x="562.98" y="404.77" width="12.05" height="3.25" fill="#bcbcbc" stroke="#000" stroke-width="1.55"/>
<rect x="592.98" y="404.77" width="12.05" height="3.25" fill="#bcbcbc" stroke="#000" stroke-width="1.55"/>
<rect x="625.17" y="404.77" width="12.05" height="3.25" fill="#bcbcbc" stroke="#000" stroke-width="1.55"/>
<rect x="586.83" y="399.53" width="17.55" height="2.55" fill="#cfe0c0" stroke="#4a7a2c" stroke-width="1.45"/>
<rect x="548.77" y="411.40" width="4.05" height="2.4" fill="#fff"/>
<line x1="550.25" y1="408.20" x2="547.70" y2="417.00" stroke="#000" stroke-width="0.95"/>
<line x1="553.90" y1="408.20" x2="551.35" y2="417.00" stroke="#000" stroke-width="0.95"/>
<rect x="581.87" y="411.40" width="4.05" height="2.4" fill="#fff"/>
<line x1="583.35" y1="408.20" x2="580.80" y2="417.00" stroke="#000" stroke-width="0.95"/>
<line x1="587.00" y1="408.20" x2="584.45" y2="417.00" stroke="#000" stroke-width="0.95"/>
<rect x="611.67" y="411.40" width="4.05" height="2.4" fill="#fff"/>
<line x1="613.15" y1="408.20" x2="610.60" y2="417.00" stroke="#000" stroke-width="0.95"/>
<line x1="616.80" y1="408.20" x2="614.25" y2="417.00" stroke="#000" stroke-width="0.95"/>
<text x="472.7" y="418.7" font-size="13.0" text-anchor="start" >E307N</text>
<line x1="657.5" y1="411.5" x2="657.5" y2="422.9" stroke="#000" stroke-width="1.25"/>
<text x="664.8" y="397.9" font-size="13.0" text-anchor="start" transform="rotate(90 664.8 397.9)" >2 nA</text>
<path d="M526.3,443.9 L526.8,455.5M538.6,448.0 L539.2,445.5M560.0,443.9 L560.5,457.3M572.3,449.0 L572.9,446.0M591.6,443.9 L592.1,450.8M604.5,446.5 L605.1,444.8M625.0,443.9 L625.5,458.0M637.0,449.6 L637.6,446.0" fill="none" stroke="#dcdcdc" stroke-width="0.8" stroke-linejoin="round" stroke-linecap="round"/>
<path d="M518.6,443.9 L526.3,443.9M539.2,445.5 L540.3,444.9 L541.5,444.5 L542.6,444.3 L543.7,444.1 L544.9,444.0 L546.0,444.0 L546.0,443.9 L560.0,443.9M572.9,446.0 L574.1,445.2 L575.3,444.7 L576.5,444.4 L577.6,444.2 L578.8,444.1 L580.0,444.0 L580.0,443.9 L591.6,443.9M605.1,444.8 L606.2,444.4 L607.4,444.2 L608.5,444.1 L609.7,444.0 L610.9,444.0 L612.0,443.9 L612.0,443.9 L625.0,443.9M637.6,446.0 L638.7,445.2 L639.7,444.7 L640.8,444.4 L641.9,444.2 L642.9,444.1 L644.0,444.0 L644.0,443.9 L644.3,443.9" fill="none" stroke="#c4c4c4" stroke-width="0.8" stroke-linejoin="round" stroke-linecap="round"/>
<path d="M526.8,455.5 L527.5,454.1 L528.2,453.0 L528.9,452.0 L529.6,451.3 L530.3,450.6 L531.0,450.1 L531.7,449.7 L532.4,449.3 L533.0,449.1 L533.7,448.8 L534.4,448.6 L535.1,448.5 L535.8,448.3 L536.5,448.2 L537.2,448.1 L537.9,448.1 L538.6,448.0M560.5,457.3 L561.2,455.8 L561.9,454.5 L562.6,453.5 L563.3,452.6 L564.0,451.9 L564.7,451.3 L565.4,450.9 L566.1,450.5 L566.7,450.2 L567.4,449.9 L568.1,449.7 L568.8,449.5 L569.5,449.4 L570.2,449.2 L570.9,449.1 L571.6,449.1 L572.3,449.0M592.1,450.8 L592.8,450.0 L593.5,449.4 L594.2,448.9 L594.9,448.5 L595.5,448.1 L596.2,447.8 L596.9,447.6 L597.6,447.4 L598.3,447.2 L599.0,447.0 L599.7,446.9 L600.4,446.8 L601.1,446.7 L601.7,446.7 L602.4,446.6 L603.1,446.6 L603.8,446.5 L604.5,446.5M625.5,458.0 L626.2,456.4 L626.9,455.2 L627.5,454.1 L628.2,453.3 L628.9,452.6 L629.6,452.0 L630.2,451.5 L630.9,451.1 L631.6,450.8 L632.3,450.5 L632.9,450.3 L633.6,450.1 L634.3,450.0 L635.0,449.8 L635.6,449.7 L636.3,449.7 L637.0,449.6" fill="none" stroke="#555" stroke-width="0.8" stroke-linejoin="round" stroke-linecap="round"/>
<rect x="526.17" y="437.47" width="12.05" height="3.25" fill="#bcbcbc" stroke="#000" stroke-width="1.55"/>
<rect x="559.88" y="437.47" width="12.05" height="3.25" fill="#bcbcbc" stroke="#000" stroke-width="1.55"/>
<rect x="592.07" y="437.47" width="12.05" height="3.25" fill="#bcbcbc" stroke="#000" stroke-width="1.55"/>
<rect x="625.17" y="437.47" width="12.05" height="3.25" fill="#bcbcbc" stroke="#000" stroke-width="1.55"/>
<rect x="585.93" y="432.43" width="17.85" height="2.65" fill="#cfe0c0" stroke="#4a7a2c" stroke-width="1.45"/>
<rect x="545.77" y="442.00" width="4.05" height="2.4" fill="#fff"/>
<line x1="547.25" y1="438.80" x2="544.70" y2="447.60" stroke="#000" stroke-width="0.95"/>
<line x1="550.90" y1="438.80" x2="548.35" y2="447.60" stroke="#000" stroke-width="0.95"/>
<rect x="579.47" y="442.00" width="4.05" height="2.4" fill="#fff"/>
<line x1="580.95" y1="438.80" x2="578.40" y2="447.60" stroke="#000" stroke-width="0.95"/>
<line x1="584.60" y1="438.80" x2="582.05" y2="447.60" stroke="#000" stroke-width="0.95"/>
<rect x="612.27" y="442.00" width="4.05" height="2.4" fill="#fff"/>
<line x1="613.75" y1="438.80" x2="611.20" y2="447.60" stroke="#000" stroke-width="0.95"/>
<line x1="617.40" y1="438.80" x2="614.85" y2="447.60" stroke="#000" stroke-width="0.95"/>
<text x="472.2" y="453.6" font-size="13.0" text-anchor="start" >E307W</text>
<text x="665.3" y="432.5" font-size="13.0" text-anchor="start" transform="rotate(90 665.3 432.5)" >0.5 nA</text>
<path d="M645.9,454 H658.1 V444.8" fill="none" stroke="#000" stroke-width="1.1"/>
<text x="636.7" y="470.8" font-size="13.0" text-anchor="start" >10 s</text>
<rect x="98.40" y="655.95" width="13.60" height="32.05" fill="#fff" stroke="#000" stroke-width="1.3"/>
<rect x="119.90" y="619.52" width="13.60" height="68.48" fill="#fff" stroke="#000" stroke-width="1.3"/>
<rect x="141.40" y="621.81" width="13.60" height="66.19" fill="#fff" stroke="#000" stroke-width="1.3"/>
<rect x="162.70" y="628.80" width="13.60" height="59.20" fill="#fff" stroke="#000" stroke-width="1.3"/>
<rect x="184.10" y="632.99" width="13.60" height="55.01" fill="#fff" stroke="#000" stroke-width="1.3"/>
<rect x="205.50" y="624.81" width="13.60" height="63.19" fill="#fff" stroke="#000" stroke-width="1.3"/>
<rect x="227.10" y="615.52" width="13.60" height="72.48" fill="#fff" stroke="#000" stroke-width="1.3"/>
<rect x="248.70" y="625.51" width="13.60" height="62.49" fill="#fff" stroke="#000" stroke-width="1.3"/>
<rect x="270.10" y="617.42" width="13.60" height="70.58" fill="#fff" stroke="#000" stroke-width="1.3"/>
<path d="M105.20,655.95 V641.80 M100.85,641.80 H109.55" fill="none" stroke="#000" stroke-width="1.2"/>
<path d="M126.70,619.52 V607.40 M122.35,607.40 H131.05" fill="none" stroke="#000" stroke-width="1.2"/>
<path d="M148.20,621.81 V601.60 M143.85,601.60 H152.55" fill="none" stroke="#000" stroke-width="1.2"/>
<path d="M169.50,628.80 V612.60 M165.15,612.60 H173.85" fill="none" stroke="#000" stroke-width="1.2"/>
<path d="M190.90,632.99 V621.90 M186.55,621.90 H195.25" fill="none" stroke="#000" stroke-width="1.2"/>
<path d="M212.30,624.81 V609.80 M207.95,609.80 H216.65" fill="none" stroke="#000" stroke-width="1.2"/>
<path d="M233.90,615.52 V596.20 M229.55,596.20 H238.25" fill="none" stroke="#000" stroke-width="1.2"/>
<path d="M255.50,625.51 V617.90 M251.15,617.90 H259.85" fill="none" stroke="#000" stroke-width="1.2"/>
<path d="M276.90,617.42 V600.90 M272.55,600.90 H281.25" fill="none" stroke="#000" stroke-width="1.2"/>
<circle cx="105.2" cy="631.2" r="3.0" fill="none" stroke="#000" stroke-width="1.25"/>
<circle cx="100.6" cy="645.2" r="3.0" fill="none" stroke="#000" stroke-width="1.25"/>
<circle cx="104.1" cy="645.2" r="3.0" fill="none" stroke="#000" stroke-width="1.25"/>
<circle cx="107.3" cy="646.4" r="3.0" fill="none" stroke="#000" stroke-width="1.25"/>
<circle cx="100.6" cy="662.2" r="3.0" fill="none" stroke="#000" stroke-width="1.25"/>
<circle cx="103.8" cy="665.7" r="3.0" fill="none" stroke="#000" stroke-width="1.25"/>
<circle cx="106.9" cy="664.8" r="3.0" fill="none" stroke="#000" stroke-width="1.25"/>
<circle cx="109.9" cy="666.2" r="3.0" fill="none" stroke="#000" stroke-width="1.25"/>
<circle cx="105.2" cy="671.8" r="3.0" fill="none" stroke="#000" stroke-width="1.25"/>
<circle cx="122.2" cy="609.8" r="3.0" fill="none" stroke="#000" stroke-width="1.25"/>
<circle cx="131.1" cy="614.9" r="3.0" fill="none" stroke="#000" stroke-width="1.25"/>
<circle cx="126.9" cy="631.2" r="3.0" fill="none" stroke="#000" stroke-width="1.25"/>
<circle cx="148.2" cy="601.6" r="3.0" fill="none" stroke="#000" stroke-width="1.25"/>
<circle cx="148.2" cy="609.0" r="3.0" fill="none" stroke="#000" stroke-width="1.25"/>
<circle cx="148.2" cy="629.6" r="3.0" fill="none" stroke="#000" stroke-width="1.25"/>
<circle cx="148.2" cy="643.6" r="3.0" fill="none" stroke="#000" stroke-width="1.25"/>
<circle cx="169.6" cy="607.9" r="3.0" fill="none" stroke="#000" stroke-width="1.25"/>
<circle cx="169.6" cy="617.2" r="3.0" fill="none" stroke="#000" stroke-width="1.25"/>
<circle cx="169.6" cy="631.2" r="3.0" fill="none" stroke="#000" stroke-width="1.25"/>
<circle cx="169.6" cy="638.3" r="3.0" fill="none" stroke="#000" stroke-width="1.25"/>
<circle cx="169.6" cy="644.1" r="3.0" fill="none" stroke="#000" stroke-width="1.25"/>
<circle cx="186.0" cy="621.4" r="3.0" fill="none" stroke="#000" stroke-width="1.25"/>
<circle cx="194.6" cy="623.1" r="3.0" fill="none" stroke="#000" stroke-width="1.25"/>
<circle cx="186.7" cy="627.7" r="3.0" fill="none" stroke="#000" stroke-width="1.25"/>
<circle cx="186.7" cy="643.6" r="3.0" fill="none" stroke="#000" stroke-width="1.25"/>
<circle cx="195.3" cy="642.9" r="3.0" fill="none" stroke="#000" stroke-width="1.25"/>
<circle cx="212.5" cy="607.9" r="3.0" fill="none" stroke="#000" stroke-width="1.25"/>
<circle cx="207.8" cy="632.4" r="3.0" fill="none" stroke="#000" stroke-width="1.25"/>
<circle cx="217.2" cy="630.8" r="3.0" fill="none" stroke="#000" stroke-width="1.25"/>
<circle cx="233.8" cy="602.0" r="3.0" fill="none" stroke="#000" stroke-width="1.25"/>
<circle cx="233.8" cy="607.4" r="3.0" fill="none" stroke="#000" stroke-width="1.25"/>
<circle cx="233.8" cy="635.2" r="3.0" fill="none" stroke="#000" stroke-width="1.25"/>
<circle cx="251.1" cy="618.4" r="3.0" fill="none" stroke="#000" stroke-width="1.25"/>
<circle cx="259.9" cy="621.4" r="3.0" fill="none" stroke="#000" stroke-width="1.25"/>
<circle cx="255.3" cy="622.6" r="3.0" fill="none" stroke="#000" stroke-width="1.25"/>
<circle cx="255.3" cy="634.0" r="3.0" fill="none" stroke="#000" stroke-width="1.25"/>
<circle cx="276.7" cy="604.8" r="3.0" fill="none" stroke="#000" stroke-width="1.25"/>
<circle cx="276.7" cy="610.9" r="3.0" fill="none" stroke="#000" stroke-width="1.25"/>
<circle cx="276.7" cy="634.0" r="3.0" fill="none" stroke="#000" stroke-width="1.25"/>
<path d="M90.90,567.50 V688.00 H292.60" fill="none" stroke="#000" stroke-width="1.5"/>
<line x1="84.60" y1="688.00" x2="90.90" y2="688.00" stroke="#000" stroke-width="1.4"/>
<text x="83.6" y="692.3" font-size="12.6" text-anchor="end" >0.0</text>
<line x1="84.60" y1="658.05" x2="90.90" y2="658.05" stroke="#000" stroke-width="1.4"/>
<text x="83.6" y="662.4" font-size="12.6" text-anchor="end" >0.3</text>
<line x1="84.60" y1="628.10" x2="90.90" y2="628.10" stroke="#000" stroke-width="1.4"/>
<text x="83.6" y="632.4" font-size="12.6" text-anchor="end" >0.6</text>
<line x1="84.60" y1="598.15" x2="90.90" y2="598.15" stroke="#000" stroke-width="1.4"/>
<text x="83.6" y="602.5" font-size="12.6" text-anchor="end" >0.9</text>
<line x1="84.60" y1="568.20" x2="90.90" y2="568.20" stroke="#000" stroke-width="1.4"/>
<text x="83.6" y="572.5" font-size="12.6" text-anchor="end" >1.2</text>
<line x1="105.20" y1="688.00" x2="105.20" y2="694.30" stroke="#000" stroke-width="1.4"/>
<line x1="126.70" y1="688.00" x2="126.70" y2="694.30" stroke="#000" stroke-width="1.4"/>
<line x1="148.20" y1="688.00" x2="148.20" y2="694.30" stroke="#000" stroke-width="1.4"/>
<line x1="169.50" y1="688.00" x2="169.50" y2="694.30" stroke="#000" stroke-width="1.4"/>
<line x1="190.90" y1="688.00" x2="190.90" y2="694.30" stroke="#000" stroke-width="1.4"/>
<line x1="212.30" y1="688.00" x2="212.30" y2="694.30" stroke="#000" stroke-width="1.4"/>
<line x1="233.90" y1="688.00" x2="233.90" y2="694.30" stroke="#000" stroke-width="1.4"/>
<line x1="255.50" y1="688.00" x2="255.50" y2="694.30" stroke="#000" stroke-width="1.4"/>
<line x1="276.90" y1="688.00" x2="276.90" y2="694.30" stroke="#000" stroke-width="1.4"/>
<text x="109.6" y="703.6" font-size="13.5" text-anchor="end" transform="rotate(-45 109.6 703.6)" >WT</text>
<text x="131.1" y="703.6" font-size="13.5" text-anchor="end" transform="rotate(-45 131.1 703.6)" >R85A</text>
<text x="152.6" y="703.6" font-size="13.5" text-anchor="end" transform="rotate(-45 152.6 703.6)" >W87A</text>
<text x="173.9" y="703.6" font-size="13.5" text-anchor="end" transform="rotate(-45 173.9 703.6)" >I94A</text>
<text x="195.3" y="703.6" font-size="13.5" text-anchor="end" transform="rotate(-45 195.3 703.6)" >I94W</text>
<text x="216.7" y="703.6" font-size="13.5" text-anchor="end" transform="rotate(-45 216.7 703.6)" >K301V</text>
<text x="238.3" y="703.6" font-size="13.5" text-anchor="end" transform="rotate(-45 238.3 703.6)" >K301R</text>
<text x="259.9" y="703.6" font-size="13.5" text-anchor="end" transform="rotate(-45 259.9 703.6)" >Y302A</text>
<text x="281.3" y="703.6" font-size="13.5" text-anchor="end" transform="rotate(-45 281.3 703.6)" >E310K</text>
<text x="125.6" y="595.7" font-size="15.2" text-anchor="middle" >**</text>
<text x="147.7" y="584.0" font-size="15.2" text-anchor="middle" >**</text>
<text x="169.6" y="592.1" font-size="15.2" text-anchor="middle" >*</text>
<text x="190.6" y="609.7" font-size="15.2" text-anchor="middle" >*</text>
<text x="211.6" y="596.6" font-size="15.2" text-anchor="middle" >*</text>
<text x="233.2" y="583.3" font-size="15.2" text-anchor="middle" >**</text>
<text x="254.0" y="606.6" font-size="15.2" text-anchor="middle" >**</text>
<text x="276.3" y="586.8" font-size="15.2" text-anchor="middle" >**</text>
<text x="58.3" y="626.0" font-size="12.8" text-anchor="middle" transform="rotate(-90 58.3 626.0)" >Ratio</text>
<text x="76.9" y="536.2" font-size="12.8" text-anchor="start" >zfP2X4</text>
<text x="0" y="0" font-size="21" text-anchor="start" transform="translate(55.30 520.40) scale(0.9 1)" >c</text>
<rect x="397.00" y="680.29" width="12.00" height="9.01" fill="#fff" stroke="#000" stroke-width="1.15"/>
<rect x="416.12" y="586.99" width="12.00" height="102.31" fill="#fff" stroke="#000" stroke-width="1.15"/>
<rect x="435.24" y="653.27" width="12.00" height="36.03" fill="#fff" stroke="#000" stroke-width="1.15"/>
<rect x="454.36" y="603.93" width="12.00" height="85.37" fill="#fff" stroke="#000" stroke-width="1.15"/>
<rect x="473.48" y="639.37" width="12.00" height="49.93" fill="#fff" stroke="#000" stroke-width="1.15"/>
<rect x="492.60" y="644.85" width="12.00" height="44.45" fill="#fff" stroke="#000" stroke-width="1.15"/>
<rect x="511.72" y="629.09" width="12.00" height="60.21" fill="#fff" stroke="#000" stroke-width="1.15"/>
<rect x="530.84" y="596.78" width="12.00" height="92.52" fill="#fff" stroke="#000" stroke-width="1.15"/>
<rect x="549.96" y="599.92" width="12.00" height="89.38" fill="#fff" stroke="#000" stroke-width="1.15"/>
<rect x="569.08" y="643.58" width="12.00" height="45.72" fill="#fff" stroke="#000" stroke-width="1.15"/>
<rect x="588.20" y="620.97" width="12.00" height="68.33" fill="#fff" stroke="#000" stroke-width="1.15"/>
<rect x="607.32" y="663.26" width="12.00" height="26.04" fill="#fff" stroke="#000" stroke-width="1.15"/>
<rect x="626.44" y="679.02" width="12.00" height="10.28" fill="#fff" stroke="#000" stroke-width="1.15"/>
<rect x="645.56" y="681.37" width="12.00" height="7.93" fill="#fff" stroke="#000" stroke-width="1.15"/>
<rect x="664.68" y="654.64" width="12.00" height="34.66" fill="#fff" stroke="#000" stroke-width="1.15"/>
<path d="M403.00,680.29 V672.50 M399.16,672.50 H406.84" fill="none" stroke="#000" stroke-width="1.2"/>
<path d="M422.12,586.99 V583.10 M418.28,583.10 H425.96" fill="none" stroke="#000" stroke-width="1.2"/>
<path d="M441.24,653.27 V636.20 M437.40,636.20 H445.08" fill="none" stroke="#000" stroke-width="1.2"/>
<path d="M460.36,603.93 V587.10 M456.52,587.10 H464.20" fill="none" stroke="#000" stroke-width="1.2"/>
<path d="M479.48,639.37 V630.90 M475.64,630.90 H483.32" fill="none" stroke="#000" stroke-width="1.2"/>
<path d="M498.60,644.85 V634.10 M494.76,634.10 H502.44" fill="none" stroke="#000" stroke-width="1.2"/>
<path d="M517.72,629.09 V616.50 M513.88,616.50 H521.56" fill="none" stroke="#000" stroke-width="1.2"/>
<path d="M536.84,596.78 V583.10 M533.00,583.10 H540.68" fill="none" stroke="#000" stroke-width="1.2"/>
<path d="M555.96,599.92 V585.70 M552.12,585.70 H559.80" fill="none" stroke="#000" stroke-width="1.2"/>
<path d="M575.08,643.58 V631.50 M571.24,631.50 H578.92" fill="none" stroke="#000" stroke-width="1.2"/>
<path d="M594.20,620.97 V597.30 M590.36,597.30 H598.04" fill="none" stroke="#000" stroke-width="1.2"/>
<path d="M613.32,663.26 V655.10 M609.48,655.10 H617.16" fill="none" stroke="#000" stroke-width="1.2"/>
<path d="M632.44,679.02 V673.50 M628.60,673.50 H636.28" fill="none" stroke="#000" stroke-width="1.2"/>
<path d="M651.56,681.37 V676.90 M647.72,676.90 H655.40" fill="none" stroke="#000" stroke-width="1.2"/>
<path d="M670.68,654.64 V638.00 M666.84,638.00 H674.52" fill="none" stroke="#000" stroke-width="1.2"/>
<circle cx="403.1" cy="665.9" r="2.6" fill="none" stroke="#000" stroke-width="1.1"/>
<circle cx="403.1" cy="673.0" r="2.6" fill="none" stroke="#000" stroke-width="1.1"/>
<circle cx="403.0" cy="675.6" r="2.6" fill="none" stroke="#000" stroke-width="1.1"/>
<circle cx="400.0" cy="681.0" r="2.6" fill="none" stroke="#000" stroke-width="1.1"/>
<circle cx="406.0" cy="681.5" r="2.6" fill="none" stroke="#000" stroke-width="1.1"/>
<circle cx="402.5" cy="683.0" r="2.6" fill="none" stroke="#000" stroke-width="1.1"/>
<circle cx="399.0" cy="685.0" r="2.6" fill="none" stroke="#000" stroke-width="1.1"/>
<circle cx="404.0" cy="686.0" r="2.6" fill="none" stroke="#000" stroke-width="1.1"/>
<circle cx="407.0" cy="684.5" r="2.6" fill="none" stroke="#000" stroke-width="1.1"/>
<circle cx="401.0" cy="679.0" r="2.6" fill="none" stroke="#000" stroke-width="1.1"/>
<circle cx="418.0" cy="581.0" r="2.6" fill="none" stroke="#000" stroke-width="1.1"/>
<circle cx="425.4" cy="585.0" r="2.6" fill="none" stroke="#000" stroke-width="1.1"/>
<circle cx="418.0" cy="587.6" r="2.6" fill="none" stroke="#000" stroke-width="1.1"/>
<circle cx="426.2" cy="591.0" r="2.6" fill="none" stroke="#000" stroke-width="1.1"/>
<circle cx="422.2" cy="595.5" r="2.6" fill="none" stroke="#000" stroke-width="1.1"/>
<circle cx="441.2" cy="638.0" r="2.6" fill="none" stroke="#000" stroke-width="1.1"/>
<circle cx="441.2" cy="650.6" r="2.6" fill="none" stroke="#000" stroke-width="1.1"/>
<circle cx="441.2" cy="669.8" r="2.6" fill="none" stroke="#000" stroke-width="1.1"/>
<circle cx="460.3" cy="579.7" r="2.6" fill="none" stroke="#000" stroke-width="1.1"/>
<circle cx="456.4" cy="608.1" r="2.6" fill="none" stroke="#000" stroke-width="1.1"/>
<circle cx="464.3" cy="608.6" r="2.6" fill="none" stroke="#000" stroke-width="1.1"/>
<circle cx="460.3" cy="616.0" r="2.6" fill="none" stroke="#000" stroke-width="1.1"/>
<circle cx="479.5" cy="631.5" r="2.6" fill="none" stroke="#000" stroke-width="1.1"/>
<circle cx="479.5" cy="637.5" r="2.6" fill="none" stroke="#000" stroke-width="1.1"/>
<circle cx="479.5" cy="646.2" r="2.6" fill="none" stroke="#000" stroke-width="1.1"/>
<circle cx="498.4" cy="633.0" r="2.6" fill="none" stroke="#000" stroke-width="1.1"/>
<circle cx="498.4" cy="646.2" r="2.6" fill="none" stroke="#000" stroke-width="1.1"/>
<circle cx="498.4" cy="653.8" r="2.6" fill="none" stroke="#000" stroke-width="1.1"/>
<circle cx="517.6" cy="614.7" r="2.6" fill="none" stroke="#000" stroke-width="1.1"/>
<circle cx="513.7" cy="638.0" r="2.6" fill="none" stroke="#000" stroke-width="1.1"/>
<circle cx="521.6" cy="634.1" r="2.6" fill="none" stroke="#000" stroke-width="1.1"/>
<circle cx="536.5" cy="583.1" r="2.6" fill="none" stroke="#000" stroke-width="1.1"/>
<circle cx="536.5" cy="590.2" r="2.6" fill="none" stroke="#000" stroke-width="1.1"/>
<circle cx="536.5" cy="599.4" r="2.6" fill="none" stroke="#000" stroke-width="1.1"/>
<circle cx="536.5" cy="614.4" r="2.6" fill="none" stroke="#000" stroke-width="1.1"/>
<circle cx="552.3" cy="591.0" r="2.6" fill="none" stroke="#000" stroke-width="1.1"/>
<circle cx="559.4" cy="589.4" r="2.6" fill="none" stroke="#000" stroke-width="1.1"/>
<circle cx="552.3" cy="595.5" r="2.6" fill="none" stroke="#000" stroke-width="1.1"/>
<circle cx="559.4" cy="594.2" r="2.6" fill="none" stroke="#000" stroke-width="1.1"/>
<circle cx="555.7" cy="599.4" r="2.6" fill="none" stroke="#000" stroke-width="1.1"/>
<circle cx="555.7" cy="627.0" r="2.6" fill="none" stroke="#000" stroke-width="1.1"/>
<circle cx="574.9" cy="630.2" r="2.6" fill="none" stroke="#000" stroke-width="1.1"/>
<circle cx="570.7" cy="652.0" r="2.6" fill="none" stroke="#000" stroke-width="1.1"/>
<circle cx="579.1" cy="648.0" r="2.6" fill="none" stroke="#000" stroke-width="1.1"/>
<circle cx="594.3" cy="599.4" r="2.6" fill="none" stroke="#000" stroke-width="1.1"/>
<circle cx="594.3" cy="610.7" r="2.6" fill="none" stroke="#000" stroke-width="1.1"/>
<circle cx="594.3" cy="619.6" r="2.6" fill="none" stroke="#000" stroke-width="1.1"/>
<circle cx="594.3" cy="652.5" r="2.6" fill="none" stroke="#000" stroke-width="1.1"/>
<circle cx="613.0" cy="647.5" r="2.6" fill="none" stroke="#000" stroke-width="1.1"/>
<circle cx="609.3" cy="657.2" r="2.6" fill="none" stroke="#000" stroke-width="1.1"/>
<circle cx="613.0" cy="659.8" r="2.6" fill="none" stroke="#000" stroke-width="1.1"/>
<circle cx="609.3" cy="666.4" r="2.6" fill="none" stroke="#000" stroke-width="1.1"/>
<circle cx="616.7" cy="666.4" r="2.6" fill="none" stroke="#000" stroke-width="1.1"/>
<circle cx="613.0" cy="667.2" r="2.6" fill="none" stroke="#000" stroke-width="1.1"/>
<circle cx="613.0" cy="673.5" r="2.6" fill="none" stroke="#000" stroke-width="1.1"/>
<circle cx="632.2" cy="670.4" r="2.6" fill="none" stroke="#000" stroke-width="1.1"/>
<circle cx="628.5" cy="680.3" r="2.6" fill="none" stroke="#000" stroke-width="1.1"/>
<circle cx="632.2" cy="680.3" r="2.6" fill="none" stroke="#000" stroke-width="1.1"/>
<circle cx="635.8" cy="680.3" r="2.6" fill="none" stroke="#000" stroke-width="1.1"/>
<circle cx="651.3" cy="675.1" r="2.6" fill="none" stroke="#000" stroke-width="1.1"/>
<circle cx="646.9" cy="684.0" r="2.6" fill="none" stroke="#000" stroke-width="1.1"/>
<circle cx="651.3" cy="681.4" r="2.6" fill="none" stroke="#000" stroke-width="1.1"/>
<circle cx="655.3" cy="681.4" r="2.6" fill="none" stroke="#000" stroke-width="1.1"/>
<circle cx="670.5" cy="631.5" r="2.6" fill="none" stroke="#000" stroke-width="1.1"/>
<circle cx="670.5" cy="654.1" r="2.6" fill="none" stroke="#000" stroke-width="1.1"/>
<circle cx="670.5" cy="661.2" r="2.6" fill="none" stroke="#000" stroke-width="1.1"/>
<circle cx="670.5" cy="667.7" r="2.6" fill="none" stroke="#000" stroke-width="1.1"/>
<path d="M390.70,571.12 V689.30 H686.00" fill="none" stroke="#000" stroke-width="1.3"/>
<line x1="384.40" y1="689.30" x2="390.70" y2="689.30" stroke="#000" stroke-width="1.2"/>
<text x="383.4" y="693.6" font-size="12.9" text-anchor="end" >0.0</text>
<line x1="384.40" y1="659.93" x2="390.70" y2="659.93" stroke="#000" stroke-width="1.2"/>
<text x="383.4" y="664.2" font-size="12.9" text-anchor="end" >0.3</text>
<line x1="384.40" y1="630.56" x2="390.70" y2="630.56" stroke="#000" stroke-width="1.2"/>
<text x="383.4" y="634.9" font-size="12.9" text-anchor="end" >0.6</text>
<line x1="384.40" y1="601.19" x2="390.70" y2="601.19" stroke="#000" stroke-width="1.2"/>
<text x="383.4" y="605.5" font-size="12.9" text-anchor="end" >0.9</text>
<line x1="384.40" y1="571.82" x2="390.70" y2="571.82" stroke="#000" stroke-width="1.2"/>
<text x="383.4" y="576.1" font-size="12.9" text-anchor="end" >1.2</text>
<line x1="403.00" y1="689.30" x2="403.00" y2="695.60" stroke="#000" stroke-width="1.2"/>
<line x1="422.12" y1="689.30" x2="422.12" y2="695.60" stroke="#000" stroke-width="1.2"/>
<line x1="441.24" y1="689.30" x2="441.24" y2="695.60" stroke="#000" stroke-width="1.2"/>
<line x1="460.36" y1="689.30" x2="460.36" y2="695.60" stroke="#000" stroke-width="1.2"/>
<line x1="479.48" y1="689.30" x2="479.48" y2="695.60" stroke="#000" stroke-width="1.2"/>
<line x1="498.60" y1="689.30" x2="498.60" y2="695.60" stroke="#000" stroke-width="1.2"/>
<line x1="517.72" y1="689.30" x2="517.72" y2="695.60" stroke="#000" stroke-width="1.2"/>
<line x1="536.84" y1="689.30" x2="536.84" y2="695.60" stroke="#000" stroke-width="1.2"/>
<line x1="555.96" y1="689.30" x2="555.96" y2="695.60" stroke="#000" stroke-width="1.2"/>
<line x1="575.08" y1="689.30" x2="575.08" y2="695.60" stroke="#000" stroke-width="1.2"/>
<line x1="594.20" y1="689.30" x2="594.20" y2="695.60" stroke="#000" stroke-width="1.2"/>
<line x1="613.32" y1="689.30" x2="613.32" y2="695.60" stroke="#000" stroke-width="1.2"/>
<line x1="632.44" y1="689.30" x2="632.44" y2="695.60" stroke="#000" stroke-width="1.2"/>
<line x1="651.56" y1="689.30" x2="651.56" y2="695.60" stroke="#000" stroke-width="1.2"/>
<line x1="670.68" y1="689.30" x2="670.68" y2="695.60" stroke="#000" stroke-width="1.2"/>
<text x="407.4" y="704.9" font-size="13.5" text-anchor="end" transform="rotate(-45 407.4 704.9)" >WT</text>
<text x="426.5" y="704.9" font-size="13.5" text-anchor="end" transform="rotate(-45 426.5 704.9)" >R82G</text>
<text x="445.6" y="704.9" font-size="13.5" text-anchor="end" transform="rotate(-45 445.6 704.9)" >R82A</text>
<text x="464.8" y="704.9" font-size="13.5" text-anchor="end" transform="rotate(-45 464.8 704.9)" >R82Q</text>
<text x="483.9" y="704.9" font-size="13.5" text-anchor="end" transform="rotate(-45 483.9 704.9)" >W84A</text>
<text x="503.0" y="704.9" font-size="13.5" text-anchor="end" transform="rotate(-45 503.0 704.9)" >D88W</text>
<text x="522.1" y="704.9" font-size="13.5" text-anchor="end" transform="rotate(-45 522.1 704.9)" >I91A</text>
<text x="541.2" y="704.9" font-size="13.5" text-anchor="end" transform="rotate(-45 541.2 704.9)" >I91T</text>
<text x="560.4" y="704.9" font-size="13.5" text-anchor="end" transform="rotate(-45 560.4 704.9)" >F296W</text>
<text x="579.5" y="704.9" font-size="13.5" text-anchor="end" transform="rotate(-45 579.5 704.9)" >K298V</text>
<text x="598.6" y="704.9" font-size="13.5" text-anchor="end" transform="rotate(-45 598.6 704.9)" >K298R</text>
<text x="617.7" y="704.9" font-size="13.5" text-anchor="end" transform="rotate(-45 617.7 704.9)" >Y299A</text>
<text x="636.8" y="704.9" font-size="13.5" text-anchor="end" transform="rotate(-45 636.8 704.9)" >E307T</text>
<text x="656.0" y="704.9" font-size="13.5" text-anchor="end" transform="rotate(-45 656.0 704.9)" >E307N</text>
<text x="675.1" y="704.9" font-size="13.5" text-anchor="end" transform="rotate(-45 675.1 704.9)" >E307W</text>
<text x="422.2" y="577.6" font-size="13.2" text-anchor="middle" >**</text>
<text x="441.2" y="632.3" font-size="13.2" text-anchor="middle" >*</text>
<text x="460.4" y="578.9" font-size="13.2" text-anchor="middle" >**</text>
<text x="479.4" y="628.1" font-size="13.2" text-anchor="middle" >**</text>
<text x="498.6" y="629.6" font-size="13.2" text-anchor="middle" >**</text>
<text x="517.9" y="611.2" font-size="13.2" text-anchor="middle" >**</text>
<text x="536.9" y="580.2" font-size="13.2" text-anchor="middle" >**</text>
<text x="555.9" y="586.3" font-size="13.2" text-anchor="middle" >**</text>
<text x="574.6" y="625.4" font-size="13.2" text-anchor="middle" >**</text>
<text x="594.0" y="596.5" font-size="13.2" text-anchor="middle" >**</text>
<text x="613.0" y="645.1" font-size="13.2" text-anchor="middle" >*</text>
<text x="634.3" y="663.4" font-size="11.8" text-anchor="middle" >n.s.</text>
<text x="653.6" y="670.6" font-size="11.8" text-anchor="middle" >n.s.</text>
<text x="670.5" y="628.1" font-size="13.2" text-anchor="middle" >**</text>
<text x="360.0" y="628.3" font-size="13.3" text-anchor="middle" transform="rotate(-90 360.0 628.3)" >Ratio</text>
<text x="381.5" y="535.5" font-size="12.8" text-anchor="start" >hP2X4</text>
<text x="0" y="0" font-size="20.5" text-anchor="start" transform="translate(354.20 524.20) scale(0.9 1)" >d</text>
</svg>
</body></html>
